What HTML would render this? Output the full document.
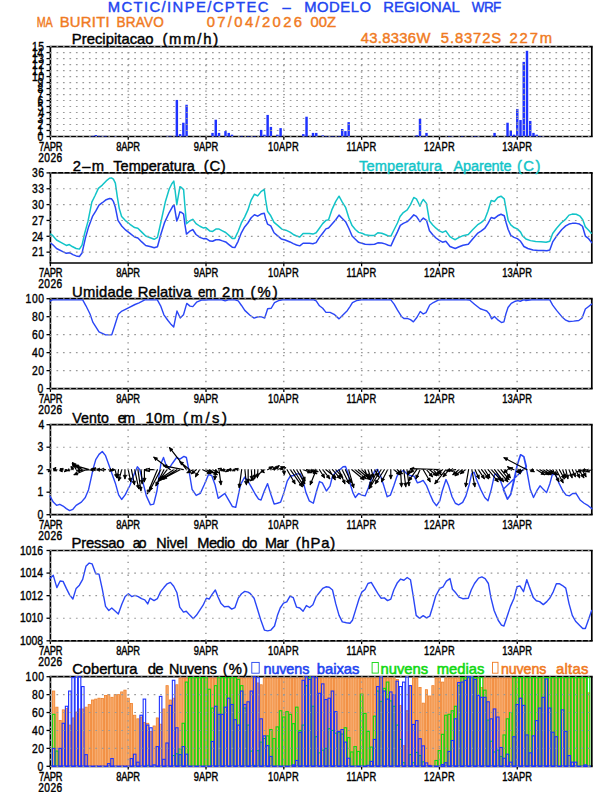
<!DOCTYPE html>
<html><head><meta charset="utf-8"><title>Meteograma WRF</title>
<style>html,body{margin:0;padding:0;background:#fff;width:612px;height:792px;overflow:hidden}svg{display:block}</style>
</head><body>
<svg width="612" height="792" viewBox="0 0 612 792" font-family="'Liberation Sans', sans-serif">
<rect width="612" height="792" fill="#fff"/>
<text id="t0" transform="translate(107.8 12.4) scale(1 1)" font-size="14.8" fill="#2244f0" font-weight="normal" textLength="160.6" lengthAdjust="spacing" stroke="#2244f0" stroke-width="0.42">MCTIC/INPE/CPTEC</text>
<text id="t1" transform="translate(282.6 12.4) scale(1 1)" font-size="14.8" fill="#2244f0" font-weight="normal" textLength="11.4" lengthAdjust="spacing" stroke="#2244f0" stroke-width="0.42">–</text>
<text id="t2" transform="translate(304.3 12.4) scale(1 1)" font-size="14.8" fill="#2244f0" font-weight="normal" textLength="66.6" lengthAdjust="spacing" stroke="#2244f0" stroke-width="0.42">MODELO</text>
<text id="t3" transform="translate(383.3 12.4) scale(1 1)" font-size="14.8" fill="#2244f0" font-weight="normal" textLength="76.5" lengthAdjust="spacing" stroke="#2244f0" stroke-width="0.42">REGIONAL</text>
<text id="t4" transform="translate(471.8 12.4) scale(0.91 1)" font-size="14.8" fill="#2244f0" font-weight="normal" textLength="32.38" lengthAdjust="spacing" stroke="#2244f0" stroke-width="0.42">WRF</text>
<text id="t5" transform="translate(36.7 27) scale(0.73 1)" font-size="14.8" fill="#f07a22" font-weight="normal" textLength="22.05" lengthAdjust="spacing" stroke="#f07a22" stroke-width="0.42">MA</text>
<text id="t6" transform="translate(59.7 27) scale(1 1)" font-size="14.8" fill="#f07a22" font-weight="normal" textLength="49.9" lengthAdjust="spacing" stroke="#f07a22" stroke-width="0.42">BURITI</text>
<text id="t7" transform="translate(116.5 27) scale(0.92 1)" font-size="14.8" fill="#f07a22" font-weight="normal" textLength="51.42" lengthAdjust="spacing" stroke="#f07a22" stroke-width="0.42">BRAVO</text>
<text id="t8" transform="translate(206.7 27) scale(1 1)" font-size="14.8" fill="#f07a22" font-weight="normal" textLength="95.3" lengthAdjust="spacing" stroke="#f07a22" stroke-width="0.42">07/04/2026</text>
<text id="t9" transform="translate(310.4 27) scale(1 1)" font-size="14.8" fill="#f07a22" font-weight="normal" textLength="25.6" lengthAdjust="spacing" stroke="#f07a22" stroke-width="0.42">00Z</text>
<text id="t10" transform="translate(360.7 42.6) scale(1 1)" font-size="14.8" fill="#f07a22" font-weight="normal" textLength="69.7" lengthAdjust="spacing" stroke="#f07a22" stroke-width="0.42">43.8336W</text>
<text id="t11" transform="translate(440.8 42.6) scale(1 1)" font-size="14.8" fill="#f07a22" font-weight="normal" textLength="60.4" lengthAdjust="spacing" stroke="#f07a22" stroke-width="0.42">5.8372S</text>
<text id="t12" transform="translate(509.6 42.6) scale(1 1)" font-size="14.8" fill="#f07a22" font-weight="normal" textLength="42.4" lengthAdjust="spacing" stroke="#f07a22" stroke-width="0.42">227m</text>
<g stroke="#000" stroke-width="1.7"><line x1="49.6" y1="46.6" x2="592.7" y2="46.6"/><line x1="49.6" y1="136.5" x2="592.7" y2="136.5"/><line x1="50.4" y1="46.6" x2="50.4" y2="136.5"/><line x1="591.8" y1="46.6" x2="591.8" y2="136.5"/></g>
<g stroke="#000" stroke-width="1.3"><line x1="46.5" y1="136.5" x2="50.4" y2="136.5"/><line x1="46.5" y1="130.51" x2="50.4" y2="130.51"/><line x1="46.5" y1="124.51" x2="50.4" y2="124.51"/><line x1="46.5" y1="118.52" x2="50.4" y2="118.52"/><line x1="46.5" y1="112.53" x2="50.4" y2="112.53"/><line x1="46.5" y1="106.53" x2="50.4" y2="106.53"/><line x1="46.5" y1="100.54" x2="50.4" y2="100.54"/><line x1="46.5" y1="94.55" x2="50.4" y2="94.55"/><line x1="46.5" y1="88.55" x2="50.4" y2="88.55"/><line x1="46.5" y1="82.56" x2="50.4" y2="82.56"/><line x1="46.5" y1="76.57" x2="50.4" y2="76.57"/><line x1="46.5" y1="70.57" x2="50.4" y2="70.57"/><line x1="46.5" y1="64.58" x2="50.4" y2="64.58"/><line x1="46.5" y1="58.59" x2="50.4" y2="58.59"/><line x1="46.5" y1="52.59" x2="50.4" y2="52.59"/><line x1="46.5" y1="46.6" x2="50.4" y2="46.6"/><line x1="50.4" y1="136.5" x2="50.4" y2="139.8"/><line x1="128.21" y1="136.5" x2="128.21" y2="139.8"/><line x1="206.01" y1="136.5" x2="206.01" y2="139.8"/><line x1="283.82" y1="136.5" x2="283.82" y2="139.8"/><line x1="361.62" y1="136.5" x2="361.62" y2="139.8"/><line x1="439.43" y1="136.5" x2="439.43" y2="139.8"/><line x1="517.24" y1="136.5" x2="517.24" y2="139.8"/></g>
<g fill="#1e32ff"><rect x="91.34" y="135.9" width="2.45" height="0.6"/><rect x="94.59" y="135" width="2.45" height="1.5"/><rect x="97.83" y="135.9" width="2.45" height="0.6"/><rect x="101.07" y="135.9" width="2.45" height="0.6"/><rect x="104.31" y="135.9" width="2.45" height="0.6"/><rect x="114.04" y="136.02" width="2.45" height="0.5"/><rect x="165.91" y="135.9" width="2.45" height="0.6"/><rect x="169.15" y="135.9" width="2.45" height="0.6"/><rect x="175.63" y="99.94" width="2.45" height="36.56"/><rect x="178.88" y="134.1" width="2.45" height="2.4"/><rect x="182.12" y="122.72" width="2.45" height="13.78"/><rect x="185.36" y="104.74" width="2.45" height="31.76"/><rect x="211.3" y="132.9" width="2.45" height="3.6"/><rect x="214.54" y="119.72" width="2.45" height="16.78"/><rect x="217.78" y="132.9" width="2.45" height="3.6"/><rect x="224.26" y="131.11" width="2.45" height="5.39"/><rect x="227.51" y="132.9" width="2.45" height="3.6"/><rect x="230.75" y="134.7" width="2.45" height="1.8"/><rect x="240.47" y="135.9" width="2.45" height="0.6"/><rect x="246.96" y="136.02" width="2.45" height="0.5"/><rect x="250.2" y="136.02" width="2.45" height="0.5"/><rect x="253.44" y="136.02" width="2.45" height="0.5"/><rect x="259.92" y="129.91" width="2.45" height="6.59"/><rect x="263.17" y="134.7" width="2.45" height="1.8"/><rect x="266.41" y="114.92" width="2.45" height="21.58"/><rect x="269.65" y="126.91" width="2.45" height="9.59"/><rect x="276.13" y="134.7" width="2.45" height="1.8"/><rect x="279.38" y="128.11" width="2.45" height="8.39"/><rect x="302.07" y="134.1" width="2.45" height="2.4"/><rect x="305.31" y="116.72" width="2.45" height="19.78"/><rect x="311.8" y="132.9" width="2.45" height="3.6"/><rect x="315.04" y="132.9" width="2.45" height="3.6"/><rect x="321.52" y="135.3" width="2.45" height="1.2"/><rect x="324.76" y="136.2" width="2.45" height="0.5"/><rect x="328" y="136.2" width="2.45" height="0.5"/><rect x="331.25" y="136.2" width="2.45" height="0.5"/><rect x="334.49" y="136.2" width="2.45" height="0.5"/><rect x="337.73" y="136.2" width="2.45" height="0.5"/><rect x="340.97" y="129.01" width="2.45" height="7.49"/><rect x="344.21" y="131.11" width="2.45" height="5.39"/><rect x="347.46" y="122.12" width="2.45" height="14.38"/><rect x="399.33" y="136.02" width="2.45" height="0.5"/><rect x="415.54" y="135.3" width="2.45" height="1.2"/><rect x="418.78" y="118.82" width="2.45" height="17.68"/><rect x="422.02" y="136.2" width="2.45" height="0.5"/><rect x="425.26" y="132.9" width="2.45" height="3.6"/><rect x="447.96" y="136.02" width="2.45" height="0.5"/><rect x="451.2" y="136.02" width="2.45" height="0.5"/><rect x="460.92" y="136.02" width="2.45" height="0.5"/><rect x="470.65" y="136.2" width="2.45" height="0.5"/><rect x="473.89" y="136.2" width="2.45" height="0.5"/><rect x="477.13" y="136.2" width="2.45" height="0.5"/><rect x="493.34" y="132.9" width="2.45" height="3.6"/><rect x="506.31" y="122.72" width="2.45" height="13.78"/><rect x="509.55" y="130.51" width="2.45" height="5.99"/><rect x="512.79" y="134.7" width="2.45" height="1.8"/><rect x="516.04" y="108.93" width="2.45" height="27.57"/><rect x="519.28" y="120.02" width="2.45" height="16.48"/><rect x="522.52" y="61.88" width="2.45" height="74.62"/><rect x="525.76" y="50.8" width="2.45" height="85.7"/><rect x="529" y="120.92" width="2.45" height="15.58"/><rect x="532.25" y="132.9" width="2.45" height="3.6"/><rect x="535.49" y="134.7" width="2.45" height="1.8"/><rect x="538.73" y="136.2" width="2.45" height="0.5"/><rect x="541.97" y="136.2" width="2.45" height="0.5"/></g>
<g stroke="#9a9a9a" stroke-width="1.15" stroke-dasharray="1.7 4.78"><line x1="50" y1="136.5" x2="591.3" y2="136.5"/><line x1="50" y1="130.51" x2="591.3" y2="130.51"/><line x1="50" y1="124.51" x2="591.3" y2="124.51"/><line x1="50" y1="118.52" x2="591.3" y2="118.52"/><line x1="50" y1="112.53" x2="591.3" y2="112.53"/><line x1="50" y1="106.53" x2="591.3" y2="106.53"/><line x1="50" y1="100.54" x2="591.3" y2="100.54"/><line x1="50" y1="94.55" x2="591.3" y2="94.55"/><line x1="50" y1="88.55" x2="591.3" y2="88.55"/><line x1="50" y1="82.56" x2="591.3" y2="82.56"/><line x1="50" y1="76.57" x2="591.3" y2="76.57"/><line x1="50" y1="70.57" x2="591.3" y2="70.57"/><line x1="50" y1="64.58" x2="591.3" y2="64.58"/><line x1="50" y1="58.59" x2="591.3" y2="58.59"/><line x1="50" y1="52.59" x2="591.3" y2="52.59"/><line x1="50" y1="46.6" x2="591.3" y2="46.6"/></g>
<g stroke="#9a9a9a" stroke-width="1.5" stroke-dasharray="1.3 5.05"><line x1="50.3" y1="52.3" x2="50.3" y2="135.5"/><line x1="128.11" y1="52.3" x2="128.11" y2="135.5"/><line x1="205.91" y1="52.3" x2="205.91" y2="135.5"/><line x1="283.72" y1="52.3" x2="283.72" y2="135.5"/><line x1="361.52" y1="52.3" x2="361.52" y2="135.5"/><line x1="439.33" y1="52.3" x2="439.33" y2="135.5"/><line x1="517.14" y1="52.3" x2="517.14" y2="135.5"/></g>
<text id="t13" transform="translate(37.55 140.7) scale(0.85 1)" font-size="12.2" fill="#000" font-weight="normal" textLength="6.53" lengthAdjust="spacing" stroke="#000" stroke-width="0.38">0</text>
<text id="t14" transform="translate(37.55 134.71) scale(0.85 1)" font-size="12.2" fill="#000" font-weight="normal" textLength="6.53" lengthAdjust="spacing" stroke="#000" stroke-width="0.38">1</text>
<text id="t15" transform="translate(37.55 128.71) scale(0.85 1)" font-size="12.2" fill="#000" font-weight="normal" textLength="6.53" lengthAdjust="spacing" stroke="#000" stroke-width="0.38">2</text>
<text id="t16" transform="translate(37.55 122.72) scale(0.85 1)" font-size="12.2" fill="#000" font-weight="normal" textLength="6.53" lengthAdjust="spacing" stroke="#000" stroke-width="0.38">3</text>
<text id="t17" transform="translate(38.55 116.73) scale(0.85 1)" font-size="12.2" fill="#000" font-weight="normal" textLength="4.18" lengthAdjust="spacing" stroke="#000" stroke-width="0.38">4</text>
<text id="t18" transform="translate(37.55 110.73) scale(0.85 1)" font-size="12.2" fill="#000" font-weight="normal" textLength="6.53" lengthAdjust="spacing" stroke="#000" stroke-width="0.38">5</text>
<text id="t19" transform="translate(37.55 104.74) scale(0.85 1)" font-size="12.2" fill="#000" font-weight="normal" textLength="6.53" lengthAdjust="spacing" stroke="#000" stroke-width="0.38">6</text>
<text id="t20" transform="translate(37.55 98.75) scale(0.85 1)" font-size="12.2" fill="#000" font-weight="normal" textLength="6.53" lengthAdjust="spacing" stroke="#000" stroke-width="0.38">7</text>
<text id="t21" transform="translate(37.55 92.75) scale(0.85 1)" font-size="12.2" fill="#000" font-weight="normal" textLength="6.53" lengthAdjust="spacing" stroke="#000" stroke-width="0.38">8</text>
<text id="t22" transform="translate(37.55 86.76) scale(0.85 1)" font-size="12.2" fill="#000" font-weight="normal" textLength="6.53" lengthAdjust="spacing" stroke="#000" stroke-width="0.38">9</text>
<text id="t23" transform="translate(32 80.77) scale(0.85 1)" font-size="12.2" fill="#000" font-weight="normal" textLength="14.24" lengthAdjust="spacing" stroke="#000" stroke-width="0.38">10</text>
<text id="t24" transform="translate(32 74.77) scale(0.85 1)" font-size="12.2" fill="#000" font-weight="normal" textLength="14.24" lengthAdjust="spacing" stroke="#000" stroke-width="0.38">11</text>
<text id="t25" transform="translate(32 68.78) scale(0.85 1)" font-size="12.2" fill="#000" font-weight="normal" textLength="14.24" lengthAdjust="spacing" stroke="#000" stroke-width="0.38">12</text>
<text id="t26" transform="translate(32 62.79) scale(0.85 1)" font-size="12.2" fill="#000" font-weight="normal" textLength="14.24" lengthAdjust="spacing" stroke="#000" stroke-width="0.38">13</text>
<text id="t27" transform="translate(32 56.79) scale(0.85 1)" font-size="12.2" fill="#000" font-weight="normal" textLength="13.06" lengthAdjust="spacing" stroke="#000" stroke-width="0.38">14</text>
<text id="t28" transform="translate(32 50.8) scale(0.85 1)" font-size="12.2" fill="#000" font-weight="normal" textLength="14.24" lengthAdjust="spacing" stroke="#000" stroke-width="0.38">15</text>
<text id="t29" transform="translate(38.9 150.7) scale(0.78 1)" font-size="12" fill="#000" font-weight="normal" textLength="30.26" lengthAdjust="spacing" stroke="#000" stroke-width="0.42">7APR</text>
<text id="t30" transform="translate(116.32 150.7) scale(0.78 1)" font-size="12" fill="#000" font-weight="normal" textLength="30.26" lengthAdjust="spacing" stroke="#000" stroke-width="0.42">8APR</text>
<text id="t31" transform="translate(193.74 150.7) scale(0.78 1)" font-size="12" fill="#000" font-weight="normal" textLength="31.54" lengthAdjust="spacing" stroke="#000" stroke-width="0.42">9APR</text>
<text id="t32" transform="translate(268.08 150.7) scale(0.78 1)" font-size="12" fill="#000" font-weight="normal" textLength="39.42" lengthAdjust="spacing" stroke="#000" stroke-width="0.42">10APR</text>
<text id="t33" transform="translate(346.5 150.7) scale(0.78 1)" font-size="12" fill="#000" font-weight="normal" textLength="38.14" lengthAdjust="spacing" stroke="#000" stroke-width="0.42">11APR</text>
<text id="t34" transform="translate(423.91 150.7) scale(0.78 1)" font-size="12" fill="#000" font-weight="normal" textLength="39.42" lengthAdjust="spacing" stroke="#000" stroke-width="0.42">12APR</text>
<text id="t35" transform="translate(502.33 150.7) scale(0.78 1)" font-size="12" fill="#000" font-weight="normal" textLength="38.14" lengthAdjust="spacing" stroke="#000" stroke-width="0.42">13APR</text>
<text id="t36" transform="translate(38.3 161.8) scale(0.85 1)" font-size="12" fill="#000" font-weight="normal" textLength="28" lengthAdjust="spacing" stroke="#000" stroke-width="0.42">2026</text>
<text id="t37" transform="translate(71.8 43.8) scale(1 1)" font-size="14.8" fill="#000" font-weight="normal" textLength="81.8" lengthAdjust="spacing" stroke="#000" stroke-width="0.42">Precipitacao</text>
<text id="t38" transform="translate(162.4 43.8) scale(1 1)" font-size="14.8" fill="#000" font-weight="normal" textLength="55.7" lengthAdjust="spacing" stroke="#000" stroke-width="0.42">(mm/h)</text>
<g stroke="#000" stroke-width="1.7"><line x1="49.6" y1="172.9" x2="592.7" y2="172.9"/><line x1="49.6" y1="263" x2="592.7" y2="263"/><line x1="50.4" y1="172.9" x2="50.4" y2="263"/><line x1="591.8" y1="172.9" x2="591.8" y2="263"/></g>
<g stroke="#000" stroke-width="1.3"><line x1="46.5" y1="252.15" x2="50.4" y2="252.15"/><line x1="46.5" y1="236.3" x2="50.4" y2="236.3"/><line x1="46.5" y1="220.45" x2="50.4" y2="220.45"/><line x1="46.5" y1="204.6" x2="50.4" y2="204.6"/><line x1="46.5" y1="188.75" x2="50.4" y2="188.75"/><line x1="46.5" y1="172.9" x2="50.4" y2="172.9"/><line x1="50.4" y1="263" x2="50.4" y2="266.3"/><line x1="128.21" y1="263" x2="128.21" y2="266.3"/><line x1="206.01" y1="263" x2="206.01" y2="266.3"/><line x1="283.82" y1="263" x2="283.82" y2="266.3"/><line x1="361.62" y1="263" x2="361.62" y2="266.3"/><line x1="439.43" y1="263" x2="439.43" y2="266.3"/><line x1="517.24" y1="263" x2="517.24" y2="266.3"/></g>
<polyline points="50.65,234.09 52.61,235.4 56.54,239.97 61.76,242.85 66.34,245.46 69.35,244.55 72.22,246.51 76.14,248.47 79.41,249.12 82.03,245.2 84.64,233.44 87.91,221.67 91.83,202.07 95.1,195.53 98.37,188.34 102.29,185.07 106.21,180.89 109.48,178.27 111.44,177.88 113.4,179.19 115.36,183.11 117.32,196.84 119.28,208.6 121.63,216.44 125.16,220.37 130,224.29 134.58,227.56 137.84,228.21 141.76,232.13 145.69,236.05 150.92,238.01 154.18,239.32 157.45,237.36 160.72,222.98 165.29,202.07 169.22,188.99 171.83,183.76 173.79,181.15 175.1,190.3 176.8,204.68 178.37,195.53 179.93,186.64 181.63,187.69 183.59,189.65 184.9,205.99 186.47,223.63 189.48,221.02 192.75,219.32 196.01,223.63 199.93,226.25 203.2,227.95 205.82,227.56 210,231.08 212.61,231.48 215.88,229.12 219.15,229.12 222.42,230.82 225.69,232.52 228.95,235.4 232.22,238.41 234.84,238.41 238.1,231.48 241.37,222.98 244.64,217.1 247.91,209.91 251.18,200.1 254.44,194.22 257.71,195.92 260.98,191.61 264.25,189.39 265.56,199.45 267.52,211.22 270.78,215.79 274.05,222.33 277.97,225.59 281.9,229.12 285.82,230.17 290,232.13 293.27,234.48 296.54,236.05 299.8,236.97 303.07,233.44 306.34,233.44 309.61,233.44 312.88,234.09 316.14,232.78 319.41,228.21 322.68,223.63 325.95,220.37 328.56,219.71 331.83,209.91 335.75,201.41 339.02,196.18 342.29,202.07 345.56,207.29 348.82,217.75 352.09,225.59 355.36,229.52 358.63,232.39 361.9,233.18 365.16,234.75 370,235.4 374.58,235.4 377.84,232.78 381.76,233.18 385.03,234.48 388.3,236.05 390.92,236.05 394.18,229.52 397.45,222.98 400.07,216.44 403.33,212.52 407.25,209.91 410.52,204.68 413.79,197.49 416.41,198.8 418.37,202.72 419.93,206.25 421.63,202.07 423.33,199.45 426.47,203.37 429.48,221.02 432.75,224.94 436.01,228.21 439.28,230.82 442.55,232.39 445.82,230.82 450,236.71 452.61,238.41 455.23,239.71 459.15,237.36 463.07,235.66 468.3,234.48 472.88,229.52 477.45,224.94 481.37,222.33 484.64,219.71 487.91,211.22 491.18,200.5 494.44,201.41 497.71,197.49 500.98,196.18 504.25,198.8 506.21,209.91 508.17,220.37 510.78,224.94 514.05,227.56 517.32,228.86 520.59,232.13 522.61,236.05 525.88,238.93 530.46,240.63 535.69,241.54 540.92,241.67 546.14,242.2 549.8,241.28 552.68,233.44 556.6,228.21 561.18,222.98 565.75,219.06 569.02,215.14 572.29,214.09 576.21,214.22 580.13,216.18 582.75,219.71 585.36,226.9 588.63,230.17 591.24,233.18" fill="none" stroke="#12c4c8" stroke-width="1.5" stroke-linejoin="round" stroke-linecap="round"/>
<polyline points="50.65,243.24 52.61,244.55 56.54,248.47 61.76,251.08 66.34,253.31 69.61,252.65 72.88,254.61 76.14,255.92 79.41,256.44 82.03,253.05 85.29,238.67 88.56,226.9 92.48,216.44 95.75,211.22 99.02,205.07 102.29,202.72 106.21,199.71 109.48,198.54 111.44,198.8 113.4,201.41 115.36,207.29 117.97,220.37 121.9,226.25 125.82,230.17 130,233.44 134.58,236.97 137.84,238.01 141.76,241.93 145.69,245.46 150.92,246.77 154.18,247.82 157.45,246.77 160.72,234.75 164.64,222.33 169.22,212.52 173.14,205.73 174.18,205.33 176.8,221.02 178.37,217.1 179.93,211.87 181.63,212.52 183.59,214.09 184.9,224.29 186.47,234.09 189.48,231.48 192.75,229.52 196.01,234.48 199.93,237.36 203.2,238.67 205.82,238.41 210,241.02 212.61,241.28 215.88,239.71 219.15,239.71 222.42,240.89 225.69,241.93 228.95,244.55 232.22,247.16 234.84,247.56 238.1,241.28 241.37,232.78 244.64,226.9 247.91,222.98 251.18,217.75 254.44,214.75 257.71,216.18 260.98,214.09 264.25,213.18 265.56,218.41 267.52,224.03 270.78,225.86 274.05,232.78 277.97,236.05 281.24,238.93 285.16,239.97 290,241.93 293.27,243.63 296.54,244.94 299.8,245.86 303.07,243.24 306.34,243.24 309.61,243.24 312.88,243.76 316.14,242.59 319.41,237.36 322.68,233.18 325.95,228.86 328.56,227.95 331.83,224.29 335.75,219.71 339.02,215.14 342.29,218.41 345.56,221.67 348.82,228.21 352.09,236.05 355.36,239.32 358.63,242.33 361.9,243.24 365.16,244.29 370,244.55 374.58,244.29 377.84,242.85 381.76,242.98 385.03,243.9 388.3,245.2 390.92,245.86 394.18,238.67 397.45,231.87 400.33,225.33 403.33,223.37 407.25,221.67 410.52,218.41 413.79,214.88 416.41,216.44 419.93,221.67 421.63,219.71 423.33,218.14 426.47,220.37 429.48,230.82 432.75,234.75 436.01,238.01 439.28,240.37 442.55,242.2 445.82,241.28 450,246.51 452.61,247.56 455.23,248.47 459.15,246.77 463.07,245.2 468.3,244.29 472.88,238.67 477.45,233.44 481.37,230.82 484.64,228.47 487.91,223.63 491.18,217.49 494.44,218.41 497.71,215.79 500.98,214.22 504.25,215.79 506.21,222.98 508.17,229.52 510.78,235.4 514.05,237.36 517.32,238.67 520.59,241.28 523.92,246.51 527.84,248.47 533.07,250.04 538.3,250.43 543.53,250.43 546.8,250.82 549.8,250.04 552.68,241.93 556.6,236.05 561.83,229.52 565.75,225.86 569.02,224.03 572.29,223.37 576.21,223.37 579.48,224.03 582.48,226.25 585.36,236.05 588.63,238.67 591.63,242.59" fill="none" stroke="#2a46f6" stroke-width="1.5" stroke-linejoin="round" stroke-linecap="round"/>
<g stroke="#9a9a9a" stroke-width="1.15" stroke-dasharray="1.7 4.78"><line x1="50" y1="252.15" x2="591.3" y2="252.15"/><line x1="50" y1="236.3" x2="591.3" y2="236.3"/><line x1="50" y1="220.45" x2="591.3" y2="220.45"/><line x1="50" y1="204.6" x2="591.3" y2="204.6"/><line x1="50" y1="188.75" x2="591.3" y2="188.75"/><line x1="50" y1="172.9" x2="591.3" y2="172.9"/></g>
<g stroke="#9a9a9a" stroke-width="1.5" stroke-dasharray="1.3 5.15"><line x1="50.3" y1="177.55" x2="50.3" y2="262"/><line x1="128.11" y1="177.55" x2="128.11" y2="262"/><line x1="205.91" y1="177.55" x2="205.91" y2="262"/><line x1="283.72" y1="177.55" x2="283.72" y2="262"/><line x1="361.52" y1="177.55" x2="361.52" y2="262"/><line x1="439.33" y1="177.55" x2="439.33" y2="262"/><line x1="517.14" y1="177.55" x2="517.14" y2="262"/></g>
<text id="t39" transform="translate(32 256.35) scale(0.85 1)" font-size="12.2" fill="#000" font-weight="normal" textLength="14.24" lengthAdjust="spacing" stroke="#000" stroke-width="0.38">21</text>
<text id="t40" transform="translate(32 240.5) scale(0.85 1)" font-size="12.2" fill="#000" font-weight="normal" textLength="13.06" lengthAdjust="spacing" stroke="#000" stroke-width="0.38">24</text>
<text id="t41" transform="translate(32 224.65) scale(0.85 1)" font-size="12.2" fill="#000" font-weight="normal" textLength="14.24" lengthAdjust="spacing" stroke="#000" stroke-width="0.38">27</text>
<text id="t42" transform="translate(32 208.8) scale(0.85 1)" font-size="12.2" fill="#000" font-weight="normal" textLength="14.24" lengthAdjust="spacing" stroke="#000" stroke-width="0.38">30</text>
<text id="t43" transform="translate(32 192.95) scale(0.85 1)" font-size="12.2" fill="#000" font-weight="normal" textLength="14.24" lengthAdjust="spacing" stroke="#000" stroke-width="0.38">33</text>
<text id="t44" transform="translate(32 177.1) scale(0.85 1)" font-size="12.2" fill="#000" font-weight="normal" textLength="14.24" lengthAdjust="spacing" stroke="#000" stroke-width="0.38">36</text>
<text id="t45" transform="translate(38.9 277.2) scale(0.78 1)" font-size="12" fill="#000" font-weight="normal" textLength="30.26" lengthAdjust="spacing" stroke="#000" stroke-width="0.42">7APR</text>
<text id="t46" transform="translate(116.32 277.2) scale(0.78 1)" font-size="12" fill="#000" font-weight="normal" textLength="30.26" lengthAdjust="spacing" stroke="#000" stroke-width="0.42">8APR</text>
<text id="t47" transform="translate(193.74 277.2) scale(0.78 1)" font-size="12" fill="#000" font-weight="normal" textLength="31.54" lengthAdjust="spacing" stroke="#000" stroke-width="0.42">9APR</text>
<text id="t48" transform="translate(268.08 277.2) scale(0.78 1)" font-size="12" fill="#000" font-weight="normal" textLength="39.42" lengthAdjust="spacing" stroke="#000" stroke-width="0.42">10APR</text>
<text id="t49" transform="translate(346.5 277.2) scale(0.78 1)" font-size="12" fill="#000" font-weight="normal" textLength="38.14" lengthAdjust="spacing" stroke="#000" stroke-width="0.42">11APR</text>
<text id="t50" transform="translate(423.91 277.2) scale(0.78 1)" font-size="12" fill="#000" font-weight="normal" textLength="39.42" lengthAdjust="spacing" stroke="#000" stroke-width="0.42">12APR</text>
<text id="t51" transform="translate(502.33 277.2) scale(0.78 1)" font-size="12" fill="#000" font-weight="normal" textLength="38.14" lengthAdjust="spacing" stroke="#000" stroke-width="0.42">13APR</text>
<text id="t52" transform="translate(38.3 288.3) scale(0.85 1)" font-size="12" fill="#000" font-weight="normal" textLength="28" lengthAdjust="spacing" stroke="#000" stroke-width="0.42">2026</text>
<text id="t53" transform="translate(72.8 170.7) scale(1 1)" font-size="14.8" fill="#000" font-weight="normal" textLength="31.2" lengthAdjust="spacing" stroke="#000" stroke-width="0.42">2–m</text>
<text id="t54" transform="translate(113.3 170.7) scale(0.98 1)" font-size="14.8" fill="#000" font-weight="normal" textLength="83.16" lengthAdjust="spacing" stroke="#000" stroke-width="0.42">Temperatura</text>
<text id="t55" transform="translate(203.8 170.7) scale(1 1)" font-size="14.8" fill="#000" font-weight="normal" textLength="22" lengthAdjust="spacing" stroke="#000" stroke-width="0.42">(C)</text>
<text id="t56" transform="translate(359.1 170.6) scale(0.99 1)" font-size="14.8" fill="#12c4c8" font-weight="normal" textLength="83.78" lengthAdjust="spacing" stroke="#12c4c8" stroke-width="0.42">Temperatura</text>
<text id="t57" transform="translate(453.4 170.6) scale(0.98 1)" font-size="14.8" fill="#12c4c8" font-weight="normal" textLength="59.38" lengthAdjust="spacing" stroke="#12c4c8" stroke-width="0.42">Aparente</text>
<text id="t58" transform="translate(517 170.6) scale(1 1)" font-size="14.8" fill="#12c4c8" font-weight="normal" textLength="23.4" lengthAdjust="spacing" stroke="#12c4c8" stroke-width="0.42">(C)</text>
<g stroke="#000" stroke-width="1.7"><line x1="49.6" y1="298.7" x2="592.7" y2="298.7"/><line x1="49.6" y1="388.6" x2="592.7" y2="388.6"/><line x1="50.4" y1="298.7" x2="50.4" y2="388.6"/><line x1="591.8" y1="298.7" x2="591.8" y2="388.6"/></g>
<g stroke="#000" stroke-width="1.3"><line x1="46.5" y1="388.6" x2="50.4" y2="388.6"/><line x1="46.5" y1="370.62" x2="50.4" y2="370.62"/><line x1="46.5" y1="352.64" x2="50.4" y2="352.64"/><line x1="46.5" y1="334.66" x2="50.4" y2="334.66"/><line x1="46.5" y1="316.68" x2="50.4" y2="316.68"/><line x1="46.5" y1="298.7" x2="50.4" y2="298.7"/><line x1="50.4" y1="388.6" x2="50.4" y2="391.9"/><line x1="128.21" y1="388.6" x2="128.21" y2="391.9"/><line x1="206.01" y1="388.6" x2="206.01" y2="391.9"/><line x1="283.82" y1="388.6" x2="283.82" y2="391.9"/><line x1="361.62" y1="388.6" x2="361.62" y2="391.9"/><line x1="439.43" y1="388.6" x2="439.43" y2="391.9"/><line x1="517.24" y1="388.6" x2="517.24" y2="391.9"/></g>
<polyline points="50,301.23 52.45,299.9 56.54,299.9 82.68,299.9 85.95,305.8 90.03,313.97 92.81,322.14 99.02,331.95 105.56,334.89 111.76,334.73 114.54,326.23 118.3,314.3 121.9,311.03 128.43,307.76 134.97,304.5 139.05,302.86 144.77,299.9 150,299.9 157.35,299.9 160.62,305.8 163.89,314.79 167.97,320.51 171.24,324.59 173.69,327.05 175.33,318.88 176.96,311.03 180.23,318.06 183.5,314.79 186.76,303.35 190.03,306.13 192.81,306.62 196.57,302.21 201.47,300.08 205.56,300.08 208.82,299.9 221.9,299.9 225.16,300.9 228.43,299.9 234.97,299.9 238.24,300.9 241.5,305.48 244.77,310.38 250,315.28 254.08,318.06 258.17,316.75 261.44,316.92 264.71,318.06 267.65,308.75 271.24,308.25 274.51,302.54 278.59,300.58 282.68,299.9 292.48,299.9 313.73,299.9 316.18,300.9 319.44,305.8 322.71,308.25 325.98,312.34 330.07,312.34 334.15,314.3 339.05,318.88 343.14,314.79 347.22,310.71 350,306.62 352.45,302.54 356.54,300.58 361.44,299.9 366.34,299.9 371.24,299.9 376.14,299.9 382.68,299.9 390.85,299.9 394.12,304.17 397.39,309.89 401.47,316.42 403.92,318.55 407.19,318.39 410.46,319.69 413.4,321.82 416.99,317.24 420.26,311.52 423.2,313.97 425.98,312.67 429.74,304.99 433.33,302.54 438.24,300.08 441.5,299.9 450,299.9 466.34,299.9 469.61,300.08 474.51,304.17 480.23,308.75 483.5,309.89 486.76,311.03 489.22,313.65 491.67,318.88 494.44,316.42 498.2,320.18 501.47,322.47 503.92,321.82 505.88,313.97 508.01,307.44 511.27,303.35 515.36,301.23 517.81,300.58 520.26,301.23 523.53,299.9 526.8,300.08 531.7,299.9 525.88,300.58 529.15,299.9 533.07,299.9 541.57,299.9 549.8,299.9 552.68,305.15 556.6,310.38 561.83,316.65 565.75,320.18 569.02,321.49 573.59,321.1 578.82,320.44 582.09,317.96 585.36,309.07 588.63,306.46 591.63,304.1" fill="none" stroke="#2a46f6" stroke-width="1.4" stroke-linejoin="round" stroke-linecap="round"/>
<g stroke="#9a9a9a" stroke-width="1.15" stroke-dasharray="1.7 4.78"><line x1="50" y1="388.6" x2="591.3" y2="388.6"/><line x1="50" y1="370.62" x2="591.3" y2="370.62"/><line x1="50" y1="352.64" x2="591.3" y2="352.64"/><line x1="50" y1="334.66" x2="591.3" y2="334.66"/><line x1="50" y1="316.68" x2="591.3" y2="316.68"/><line x1="50" y1="298.7" x2="591.3" y2="298.7"/></g>
<g stroke="#9a9a9a" stroke-width="1.5" stroke-dasharray="1.3 5.15"><line x1="50.3" y1="303.45" x2="50.3" y2="387.6"/><line x1="128.11" y1="303.45" x2="128.11" y2="387.6"/><line x1="205.91" y1="303.45" x2="205.91" y2="387.6"/><line x1="283.72" y1="303.45" x2="283.72" y2="387.6"/><line x1="361.52" y1="303.45" x2="361.52" y2="387.6"/><line x1="439.33" y1="303.45" x2="439.33" y2="387.6"/><line x1="517.14" y1="303.45" x2="517.14" y2="387.6"/></g>
<text id="t59" transform="translate(37.55 392.8) scale(0.85 1)" font-size="12.2" fill="#000" font-weight="normal" textLength="6.53" lengthAdjust="spacing" stroke="#000" stroke-width="0.38">0</text>
<text id="t60" transform="translate(32 374.82) scale(0.85 1)" font-size="12.2" fill="#000" font-weight="normal" textLength="14.24" lengthAdjust="spacing" stroke="#000" stroke-width="0.38">20</text>
<text id="t61" transform="translate(32 356.84) scale(0.85 1)" font-size="12.2" fill="#000" font-weight="normal" textLength="14.24" lengthAdjust="spacing" stroke="#000" stroke-width="0.38">40</text>
<text id="t62" transform="translate(32 338.86) scale(0.85 1)" font-size="12.2" fill="#000" font-weight="normal" textLength="14.24" lengthAdjust="spacing" stroke="#000" stroke-width="0.38">60</text>
<text id="t63" transform="translate(32 320.88) scale(0.85 1)" font-size="12.2" fill="#000" font-weight="normal" textLength="14.24" lengthAdjust="spacing" stroke="#000" stroke-width="0.38">80</text>
<text id="t64" transform="translate(25.45 302.9) scale(0.85 1)" font-size="12.2" fill="#000" font-weight="normal" textLength="21.94" lengthAdjust="spacing" stroke="#000" stroke-width="0.38">100</text>
<text id="t65" transform="translate(38.9 402.8) scale(0.78 1)" font-size="12" fill="#000" font-weight="normal" textLength="30.26" lengthAdjust="spacing" stroke="#000" stroke-width="0.42">7APR</text>
<text id="t66" transform="translate(116.32 402.8) scale(0.78 1)" font-size="12" fill="#000" font-weight="normal" textLength="30.26" lengthAdjust="spacing" stroke="#000" stroke-width="0.42">8APR</text>
<text id="t67" transform="translate(193.74 402.8) scale(0.78 1)" font-size="12" fill="#000" font-weight="normal" textLength="31.54" lengthAdjust="spacing" stroke="#000" stroke-width="0.42">9APR</text>
<text id="t68" transform="translate(268.08 402.8) scale(0.78 1)" font-size="12" fill="#000" font-weight="normal" textLength="39.42" lengthAdjust="spacing" stroke="#000" stroke-width="0.42">10APR</text>
<text id="t69" transform="translate(346.5 402.8) scale(0.78 1)" font-size="12" fill="#000" font-weight="normal" textLength="38.14" lengthAdjust="spacing" stroke="#000" stroke-width="0.42">11APR</text>
<text id="t70" transform="translate(423.91 402.8) scale(0.78 1)" font-size="12" fill="#000" font-weight="normal" textLength="39.42" lengthAdjust="spacing" stroke="#000" stroke-width="0.42">12APR</text>
<text id="t71" transform="translate(502.33 402.8) scale(0.78 1)" font-size="12" fill="#000" font-weight="normal" textLength="38.14" lengthAdjust="spacing" stroke="#000" stroke-width="0.42">13APR</text>
<text id="t72" transform="translate(38.3 413.9) scale(0.85 1)" font-size="12" fill="#000" font-weight="normal" textLength="28" lengthAdjust="spacing" stroke="#000" stroke-width="0.42">2026</text>
<text id="t73" transform="translate(72.1 296.6) scale(1 1)" font-size="14.8" fill="#000" font-weight="normal" textLength="60.4" lengthAdjust="spacing" stroke="#000" stroke-width="0.42">Umidade</text>
<text id="t74" transform="translate(137.8 296.6) scale(1 1)" font-size="14.8" fill="#000" font-weight="normal" textLength="53.6" lengthAdjust="spacing" stroke="#000" stroke-width="0.42">Relativa</text>
<text id="t75" transform="translate(198.1 296.6) scale(0.9 1)" font-size="14.8" fill="#000" font-weight="normal" textLength="20.29" lengthAdjust="spacing" stroke="#000" stroke-width="0.42">em</text>
<text id="t76" transform="translate(222.1 296.6) scale(1 1)" font-size="14.8" fill="#000" font-weight="normal" textLength="21.8" lengthAdjust="spacing" stroke="#000" stroke-width="0.42">2m</text>
<text id="t77" transform="translate(250.6 296.6) scale(1 1)" font-size="14.8" fill="#000" font-weight="normal" textLength="27.2" lengthAdjust="spacing" stroke="#000" stroke-width="0.42">(%)</text>
<g stroke="#000" stroke-width="1.7"><line x1="49.6" y1="424.7" x2="592.7" y2="424.7"/><line x1="49.6" y1="514.7" x2="592.7" y2="514.7"/><line x1="50.4" y1="424.7" x2="50.4" y2="514.7"/><line x1="591.8" y1="424.7" x2="591.8" y2="514.7"/></g>
<g stroke="#000" stroke-width="1.3"><line x1="46.5" y1="514.7" x2="50.4" y2="514.7"/><line x1="46.5" y1="492.2" x2="50.4" y2="492.2"/><line x1="46.5" y1="469.7" x2="50.4" y2="469.7"/><line x1="46.5" y1="447.2" x2="50.4" y2="447.2"/><line x1="46.5" y1="424.7" x2="50.4" y2="424.7"/><line x1="50.4" y1="514.7" x2="50.4" y2="518"/><line x1="128.21" y1="514.7" x2="128.21" y2="518"/><line x1="206.01" y1="514.7" x2="206.01" y2="518"/><line x1="283.82" y1="514.7" x2="283.82" y2="518"/><line x1="361.62" y1="514.7" x2="361.62" y2="518"/><line x1="439.43" y1="514.7" x2="439.43" y2="518"/><line x1="517.24" y1="514.7" x2="517.24" y2="518"/></g>
<polyline points="50,496.21 53.27,502.09 56.54,505.36 59.8,504.31 63.07,506.01 66.34,508.63 69.61,510.59 72.88,509.28 76.14,505.36 81.37,502.09 85.29,497.52 88.56,489.67 91.18,477.91 93.14,468.76 95.75,459.61 99.02,454.38 102.29,451.5 105.56,455.69 108.82,464.84 112.09,473.99 115.36,483.14 118.63,494.9 121.63,499.48 125.16,494.9 130,485.27 133.27,476.29 137.35,466.81 139.8,469.75 143.07,482.82 146.34,495.9 150.42,504.88 153.69,504.07 156.96,490.99 159.41,473.02 161.05,463.22 163.5,457.5 165.95,464.85 169.22,468.12 172.48,463.22 176.57,457.5 179.84,459.13 183.92,456.35 186.37,457.5 188.82,469.75 192.09,489.36 196.18,495.41 200.26,493.44 204.35,484.46 208.43,474.65 211.7,475.47 214.97,484.46 218.24,498.35 221.5,495.9 224.77,493.44 230,502.43 232.45,506.52 235.72,507.33 238.17,495.9 240.62,484.46 244.71,477.1 247.97,481.19 251.24,486.91 255.33,494.26 258.59,499.16 261.05,499.98 264.31,490.99 267.58,483.64 270.85,494.26 274.12,504.07 277.39,503.25 280.65,502.1 283.92,492.63 287.19,481.19 290.46,475.96 293.73,475.47 296.99,473.84 300.26,473.84 302.71,479.56 305.98,492.63 309.25,500.8 313.33,503.25 316.6,490.99 319.54,481.52 322.32,482.82 326.41,490.99 330,486.09 332.45,476.29 336.54,471.39 339.8,469.75 343.07,466.81 345.52,466.48 347.97,473.02 350.42,484.46 352.88,492.63 355.33,497.53 358.59,493.44 361.86,495.08 365.13,495.9 368.4,487.73 371.67,477.92 374.93,470.57 377.39,469.42 380.65,476.29 383.92,486.09 387.19,496.71 390.46,495.08 393.73,486.09 396.99,476.29 399.44,472.2 403.53,470.57 406.8,473.84 410.07,475.47 414.15,476.29 417.42,482.82 419.87,482.01 423.14,480.37 426.41,485.27 430,494.26 433.27,501.61 436.54,505.7 439.8,500.8 442.25,490.99 446.01,479.56 448.79,486.09 452.06,496.71 455.33,503.25 458.59,504.88 462.68,502.43 465.95,495.9 469.22,484.46 471.67,473.84 474.12,472.2 476.57,479.56 480.65,489.36 484.74,497.53 488.01,500.8 491.27,489.36 494.54,474.65 496.99,473.84 500.26,480.37 504.35,490.99 507.61,499.16 510.88,494.26 514.15,481.19 517.42,464.85 520.69,454.72 523.95,456.68 526.41,466.48 503.27,489.36 507.35,499.16 510.62,494.26 513.89,479.56 517.16,464.85 520.42,454.72 523.69,456.68 526.96,471.39 530.23,489.36 533.5,497.53 536.76,490.99 540.03,485.76 543.3,489.36 546.57,492.63 549.84,483.64 552.29,474.65 555.56,474.65 558.82,482.82 562.91,490.99 566.18,495.08 569.44,495.9 572.71,493.44 575.98,493.44 580.07,499.98 584.15,503.25 588.24,505.7 591.83,508.64" fill="none" stroke="#2a46f6" stroke-width="1.4" stroke-linejoin="round" stroke-linecap="round"/>
<path d="M50.4 469.7L48.4 471.7M53.64 469.7L55.64 467.7M56.88 469.7L53.88 470.7M60.13 469.7L62.13 471.7M63.37 469.7L60.37 468.7M66.61 469.7L64.61 471.7M69.85 469.7L66.85 470.7M73.09 469.7L71.09 466.7M76.34 469.7L72.34 463.7M79.58 469.7L72.58 462.7M82.82 469.7L73.82 464.7M86.06 469.7L74.06 474.7M89.3 469.7L75.3 465.7M92.54 469.7L76.54 470.7M95.79 469.7L89.79 469.7M99.03 469.7L92.03 468.7M102.27 469.7L96.27 469.7M105.51 469.7L100.51 469.7M108.75 469.7L112.75 470.7M112 469.7L115 469.7M115.24 469.7L116.74 477.7M118.48 469.7L117.48 477.7M121.72 469.7L118.72 480.7M124.96 469.7L124.96 478.7M128.21 469.7L130.71 481.7M131.45 469.7L134.45 484.7M134.69 469.7L138.69 488.7M137.93 469.7L140.93 490.7M141.17 469.7L142.17 483.7M144.42 469.7L144.42 481.7M147.66 469.7L144.66 469.7M150.9 469.7L145.9 470.7M154.14 469.7L146.14 469.7M157.38 469.7L147.38 493.7M160.63 469.7L149.63 490.7M163.87 469.7L155.87 485.7M167.11 469.7L158.11 481.7M170.35 469.7L153.85 457.2M173.59 469.7L158.59 479.7M176.83 469.7L160.83 479.7M180.08 469.7L163.08 478.7M183.32 469.7L163.32 465.7M186.56 469.7L169.56 447.7M189.8 469.7L179.8 461.7M193.04 469.7L187.04 472.7M196.29 469.7L191.29 473.7M199.53 469.7L195.53 476.7M202.77 469.7L210.77 473.7M206.01 469.7L213.01 472.7M209.25 469.7L217.25 474.7M212.5 469.7L218.5 472.7M215.74 469.7L214.74 479.7M218.98 469.7L220.98 484.7M222.22 469.7L218.22 468.7M225.46 469.7L221.46 470.7M228.71 469.7L225.71 471.7M231.95 469.7L227.95 469.7M235.19 469.7L232.19 470.7M238.43 469.7L235.43 468.7M241.67 469.7L239.17 487.7M244.91 469.7L246.41 484.7M248.16 469.7L248.16 482.7M251.4 469.7L251.9 479.7M254.64 469.7L254.64 478.7M257.88 469.7L257.38 477.7M261.12 469.7L264.12 472.7M264.37 469.7L250.37 480.7M267.61 469.7L272.61 466.7M270.85 469.7L276.85 467.7M274.09 469.7L279.09 465.7M277.33 469.7L284.33 466.7M280.58 469.7L285.58 467.7M283.82 469.7L284.32 474.7M287.06 469.7L295.06 483.7M290.3 469.7L302.3 486.7M293.54 469.7L303.54 485.7M296.79 469.7L304.79 483.7M300.03 469.7L305.03 480.7M303.27 469.7L311.27 472.7M306.51 469.7L314.51 471.7M309.75 469.7L316.75 473.7M313 469.7L318 471.7M316.24 469.7L310.24 484.7M319.48 469.7L324.48 477.7M322.72 469.7L329.72 478.7M325.96 469.7L335.96 477.7M329.2 469.7L335.2 479.7M332.45 469.7L340.45 478.7M335.69 469.7L342.69 477.7M338.93 469.7L344.93 483.7M342.17 469.7L349.17 483.7M345.41 469.7L351.41 482.7M348.66 469.7L353.66 487.7M351.9 469.7L363.9 479.7M355.14 469.7L366.14 478.7M358.38 469.7L370.38 479.7M361.62 469.7L369.62 477.7M364.87 469.7L367.87 477.7M368.11 469.7L371.11 478.7M371.35 469.7L373.35 477.7M374.59 469.7L378.59 476.7M377.83 469.7L369.83 485.7M381.08 469.7L369.08 488.7M384.32 469.7L375.32 483.7M387.56 469.7L381.56 481.7M390.8 469.7L390.8 478.7M394.04 469.7L400.04 474.7M397.29 469.7L402.29 473.7M400.53 469.7L401.53 486.7M403.77 469.7L405.77 486.7M407.01 469.7L409.01 485.7M410.25 469.7L408.25 474.7M413.49 469.7L410.49 472.7M416.74 469.7L408.74 480.7M419.98 469.7L415.98 478.7M423.22 469.7L430.22 481.7M426.46 469.7L432.46 476.7M429.7 469.7L436.7 475.7M432.95 469.7L438.95 475.7M436.19 469.7L441.19 474.7M439.43 469.7L410.43 468.7M442.67 469.7L437.67 472.7M445.91 469.7L434.91 483.7M449.16 469.7L443.16 476.7M452.4 469.7L446.4 470.7M455.64 469.7L449.64 470.7M458.88 469.7L452.88 474.7M462.12 469.7L455.12 475.7M465.37 469.7L460.37 473.7M468.61 469.7L465.61 486.7M471.85 469.7L474.85 486.7M475.09 469.7L479.09 478.7M478.33 469.7L484.33 478.7M481.57 469.7L488.57 478.7M484.82 469.7L489.82 477.7M488.06 469.7L498.06 481.7M491.3 469.7L501.3 480.7M494.54 469.7L503.54 481.7M497.78 469.7L507.78 481.7M501.03 469.7L509.03 479.7M504.27 469.7L510.27 477.7M507.51 469.7L503.51 472.7M510.75 469.7L507.75 466.7M513.99 469.7L508.99 467.7M517.24 469.7L520.24 473.7M520.48 469.7L516.48 471.7M523.72 469.7L517.72 471.7M526.96 469.7L503.96 457.7M530.2 469.7L534.2 471.7M533.45 469.7L530.45 470.7M536.69 469.7L544.69 474.7M539.93 469.7L548.93 474.7M543.17 469.7L551.17 474.7M546.41 469.7L553.41 473.7M549.66 469.7L557.66 474.7M552.9 469.7L558.9 481.7M556.14 469.7L563.14 482.7M559.38 469.7L564.38 478.7M562.62 469.7L565.62 477.7M565.86 469.7L567.86 478.7M569.11 469.7L572.11 477.7M572.35 469.7L575.35 476.7M575.59 469.7L579.59 477.7M578.83 469.7L583.83 477.7M582.07 469.7L586.07 476.7M585.32 469.7L577.32 471.7M588.56 469.7L581.56 470.7M591.8 469.7L585.8 471.7" fill="none" stroke="#000" stroke-width="1.2" stroke-linecap="round"/>
<path d="M51.02 470.8L48.4 471.7L49.3 469.08ZM53.02 468.6L55.64 467.7L54.74 470.32ZM56.78 471.08L53.88 470.7L55.97 468.65ZM61.22 469.08L62.13 471.7L59.5 470.8ZM62.45 470.75L60.37 468.7L63.27 468.32ZM67.23 470.8L64.61 471.7L65.51 469.08ZM69.75 471.08L66.85 470.7L68.94 468.65ZM71.51 469.79L71.09 466.7L73.79 468.28ZM72.84 467.47L72.34 463.7L75.62 465.62ZM73.81 466.29L72.58 462.7L76.17 463.94ZM76 467.81L73.82 464.7L77.61 464.9ZM77.85 474.92L74.06 474.7L76.57 471.85ZM78.13 468.24L75.3 465.7L79.04 465.04ZM80.06 472.15L76.54 470.7L79.85 468.82ZM93.2 471.37L89.79 469.7L93.2 468.03ZM95.17 470.83L92.03 468.7L95.65 467.53ZM99.69 471.37L96.27 469.7L99.69 468.03ZM103.88 471.34L100.51 469.7L103.88 468.06ZM110.19 468.54L112.75 470.7L109.47 471.4ZM112.43 468.45L115 469.7L112.43 470.95ZM117.75 474.04L116.74 477.7L114.47 474.65ZM119.56 474.52L117.48 477.7L116.25 474.1ZM121.23 477.84L118.72 480.7L118.01 476.97ZM126.63 475.28L124.96 478.7L123.3 475.28ZM131.64 478.02L130.71 481.7L128.38 478.7ZM135.41 481.02L134.45 484.7L132.14 481.68ZM139.62 485.01L138.69 488.7L136.36 485.7ZM142.1 487.08L140.93 490.7L138.8 487.55ZM143.59 480.17L142.17 483.7L140.27 480.41ZM146.08 478.28L144.42 481.7L142.75 478.28ZM147.22 470.95L144.66 469.7L147.22 468.45ZM149.57 471.66L145.9 470.7L148.92 468.4ZM149.56 471.37L146.14 469.7L149.56 468.03ZM150.23 491.19L147.38 493.7L147.16 489.91ZM152.69 488.45L149.63 490.7L149.73 486.9ZM158.88 483.39L155.87 485.7L155.9 481.9ZM161.49 479.97L158.11 481.7L158.83 477.97ZM155.57 460.59L153.85 457.2L157.58 457.93ZM162.36 479.19L158.59 479.7L160.51 476.42ZM164.61 479.3L160.83 479.7L162.85 476.48ZM166.87 478.57L163.08 478.7L165.32 475.63ZM166.34 468L163.32 465.7L166.99 464.74ZM170.33 451.42L169.56 447.7L172.97 449.38ZM181.43 465.13L179.8 461.7L183.51 462.53ZM190.84 472.66L187.04 472.7L189.35 469.68ZM194.99 472.87L191.29 473.7L192.91 470.27ZM198.67 474.56L195.53 476.7L195.78 472.91ZM208.46 470.68L210.77 473.7L206.97 473.66ZM210.53 469.82L213.01 472.7L209.22 472.89ZM215.24 471.48L217.25 474.7L213.47 474.3ZM216.19 469.68L218.5 472.7L214.7 472.66ZM216.74 476.47L214.74 479.7L213.42 476.14ZM222.18 481.09L220.98 484.7L218.88 481.53ZM220.79 470.86L218.22 468.7L221.5 468ZM224.75 471.4L221.46 470.7L224.03 468.54ZM228.8 471.28L225.71 471.7L227.28 469ZM230.91 471.15L227.95 469.7L230.91 468.25ZM235.09 471.08L232.19 470.7L234.28 468.65ZM237.52 470.75L235.43 468.7L238.33 468.32ZM241.29 484.55L239.17 487.7L237.99 484.09ZM247.73 481.14L246.41 484.7L244.42 481.47ZM249.82 479.28L248.16 482.7L246.49 479.28ZM253.39 476.21L251.9 479.7L250.06 476.37ZM256.31 475.28L254.64 478.7L252.97 475.28ZM259.26 474.4L257.38 477.7L255.93 474.19ZM263.01 469.48L264.12 472.7L260.9 471.59ZM254.08 479.9L250.37 480.7L252.02 477.28ZM268.82 467.03L272.61 466.7L270.54 469.89ZM273.08 467.2L276.85 467.7L274.14 470.36ZM275.38 466.53L279.09 465.7L277.47 469.13ZM280.54 466.51L284.33 466.7L281.85 469.58ZM281.79 467.42L285.58 467.7L283.02 470.52ZM285.62 471.17L284.32 474.7L282.34 471.5ZM294.81 479.91L295.06 483.7L291.92 481.56ZM301.69 482.95L302.3 486.7L298.97 484.87ZM303.15 481.92L303.54 485.7L300.32 483.69ZM304.54 479.91L304.79 483.7L301.64 481.56ZM305.13 476.9L305.03 480.7L302.1 478.28ZM308.66 469.94L311.27 472.7L307.49 473.06ZM311.6 469.26L314.51 471.7L310.79 472.49ZM314.61 470.56L316.75 473.7L312.96 473.45ZM315.44 468.88L318 471.7L314.21 471.98ZM313.05 482.15L310.24 484.7L309.96 480.91ZM324.08 473.92L324.48 477.7L321.26 475.69ZM328.94 474.98L329.72 478.7L326.31 477.03ZM334.34 474.27L335.96 477.7L332.26 476.87ZM334.88 475.91L335.2 479.7L332.02 477.63ZM339.42 475.04L340.45 478.7L336.93 477.25ZM341.69 474.03L342.69 477.7L339.19 476.23ZM345.12 479.9L344.93 483.7L342.05 481.22ZM349.13 479.9L349.17 483.7L346.16 481.39ZM351.5 478.9L351.41 482.7L348.47 480.3ZM354.35 483.96L353.66 487.7L351.14 484.86ZM362.34 476.23L363.9 479.7L360.21 478.79ZM364.55 475.25L366.14 478.7L362.44 477.83ZM368.82 476.23L370.38 479.7L366.69 478.79ZM368.39 474.11L369.62 477.7L366.03 476.46ZM368.23 473.92L367.87 477.7L365.11 475.09ZM371.61 474.93L371.11 478.7L368.45 475.99ZM374.14 473.98L373.35 477.7L370.91 474.79ZM378.34 472.91L378.59 476.7L375.45 474.56ZM372.85 483.39L369.83 485.7L369.87 481.9ZM372.31 486.7L369.08 488.7L369.49 484.92ZM378.57 481.73L375.32 483.7L375.76 479.93ZM384.58 479.39L381.56 481.7L381.6 477.9ZM392.47 475.28L390.8 478.7L389.14 475.28ZM398.49 471.23L400.04 474.7L396.35 473.79ZM400.66 470.27L402.29 473.7L398.58 472.87ZM402.99 483.19L401.53 486.7L399.66 483.39ZM407.02 483.11L405.77 486.7L403.72 483.5ZM410.24 482.1L409.01 485.7L406.93 482.52ZM411.07 472.15L408.25 474.7L407.97 470.91ZM413.72 471.59L410.49 472.7L411.6 469.48ZM412.09 478.92L408.74 480.7L409.4 476.96ZM418.89 476.26L415.98 478.7L415.84 474.9ZM429.94 477.91L430.22 481.7L427.06 479.59ZM431.5 473.02L432.46 476.7L428.97 475.19ZM435.2 472.21L436.7 475.7L433.03 474.74ZM437.71 472.11L438.95 475.7L435.35 474.46ZM439.95 471.11L441.19 474.7L437.6 473.46ZM413.79 470.48L410.43 468.7L413.9 467.15ZM441.46 472.37L437.67 472.7L439.74 469.51ZM438.33 482.04L434.91 483.7L435.71 479.99ZM446.64 475.19L443.16 476.7L444.11 473.02ZM450.04 471.78L446.4 470.7L449.49 468.5ZM453.28 471.78L449.64 470.7L452.73 468.5ZM456.57 473.79L452.88 474.7L454.44 471.23ZM458.8 474.74L455.12 475.7L456.63 472.21ZM464.07 472.87L460.37 473.7L461.99 470.27ZM467.84 483.63L465.61 486.7L464.56 483.05ZM475.9 483.05L474.85 486.7L472.62 483.63ZM479.23 474.9L479.09 478.7L476.18 476.26ZM483.82 474.93L484.33 478.7L481.05 476.78ZM487.79 474.98L488.57 478.7L485.16 477.03ZM489.42 473.92L489.82 477.7L486.59 475.69ZM497.15 478.01L498.06 481.7L494.59 480.14ZM500.24 477.05L501.3 480.7L497.77 479.29ZM502.83 477.97L503.54 481.7L500.16 479.97ZM506.88 478.01L507.78 481.7L504.32 480.14ZM508.19 475.99L509.03 479.7L505.59 478.07ZM509.55 473.97L510.27 477.7L506.89 475.97ZM507.19 471.99L503.51 472.7L505.22 469.36ZM508.86 469.92L507.75 466.7L510.98 467.81ZM511.55 470.52L508.99 467.7L512.78 467.42ZM519.53 470.02L520.24 473.7L516.9 471.99ZM519.99 471.67L516.48 471.7L518.61 468.91ZM521.49 472.2L517.72 471.7L520.43 469.04ZM506.22 460.76L503.96 457.7L507.76 457.8ZM532.07 468.91L534.2 471.7L530.69 471.67ZM533.34 471.08L530.45 470.7L532.53 468.65ZM542.67 471.48L544.69 474.7L540.91 474.3ZM546.75 471.59L548.93 474.7L545.13 474.5ZM549.16 471.48L551.17 474.7L547.39 474.3ZM551.27 470.56L553.41 473.7L549.62 473.45ZM555.64 471.48L557.66 474.7L553.88 474.3ZM558.86 477.9L558.9 481.7L555.88 479.39ZM562.99 478.9L563.14 482.7L560.05 480.48ZM564.18 474.91L564.38 478.7L561.27 476.52ZM565.98 473.92L565.62 477.7L562.86 475.09ZM568.75 475L567.86 478.7L565.5 475.73ZM572.47 473.92L572.11 477.7L569.35 475.09ZM575.53 472.9L575.35 476.7L572.47 474.22ZM579.55 473.9L579.59 477.7L576.57 475.39ZM583.43 473.92L583.83 477.7L580.61 475.69ZM585.83 472.91L586.07 476.7L582.93 474.56ZM581.03 472.49L577.32 471.7L580.23 469.26ZM585.17 471.87L581.56 470.7L584.7 468.57ZM589.57 472.2L585.8 471.7L588.51 469.04Z" fill="#000" stroke="#000" stroke-width="0.8" stroke-linejoin="round"/>
<g stroke="#9a9a9a" stroke-width="1.15" stroke-dasharray="1.7 4.78"><line x1="50" y1="514.7" x2="591.3" y2="514.7"/><line x1="50" y1="492.2" x2="591.3" y2="492.2"/><line x1="50" y1="469.7" x2="591.3" y2="469.7"/><line x1="50" y1="447.2" x2="591.3" y2="447.2"/><line x1="50" y1="424.7" x2="591.3" y2="424.7"/></g>
<g stroke="#9a9a9a" stroke-width="1.5" stroke-dasharray="1.3 5.15"><line x1="50.3" y1="429.45" x2="50.3" y2="513.7"/><line x1="128.11" y1="429.45" x2="128.11" y2="513.7"/><line x1="205.91" y1="429.45" x2="205.91" y2="513.7"/><line x1="283.72" y1="429.45" x2="283.72" y2="513.7"/><line x1="361.52" y1="429.45" x2="361.52" y2="513.7"/><line x1="439.33" y1="429.45" x2="439.33" y2="513.7"/><line x1="517.14" y1="429.45" x2="517.14" y2="513.7"/></g>
<text id="t78" transform="translate(37.55 518.9) scale(0.85 1)" font-size="12.2" fill="#000" font-weight="normal" textLength="6.53" lengthAdjust="spacing" stroke="#000" stroke-width="0.38">0</text>
<text id="t79" transform="translate(37.55 496.4) scale(0.85 1)" font-size="12.2" fill="#000" font-weight="normal" textLength="6.53" lengthAdjust="spacing" stroke="#000" stroke-width="0.38">1</text>
<text id="t80" transform="translate(37.55 473.9) scale(0.85 1)" font-size="12.2" fill="#000" font-weight="normal" textLength="6.53" lengthAdjust="spacing" stroke="#000" stroke-width="0.38">2</text>
<text id="t81" transform="translate(37.55 451.4) scale(0.85 1)" font-size="12.2" fill="#000" font-weight="normal" textLength="6.53" lengthAdjust="spacing" stroke="#000" stroke-width="0.38">3</text>
<text id="t82" transform="translate(38.55 428.9) scale(0.85 1)" font-size="12.2" fill="#000" font-weight="normal" textLength="4.18" lengthAdjust="spacing" stroke="#000" stroke-width="0.38">4</text>
<text id="t83" transform="translate(38.9 528.9) scale(0.78 1)" font-size="12" fill="#000" font-weight="normal" textLength="30.26" lengthAdjust="spacing" stroke="#000" stroke-width="0.42">7APR</text>
<text id="t84" transform="translate(116.32 528.9) scale(0.78 1)" font-size="12" fill="#000" font-weight="normal" textLength="30.26" lengthAdjust="spacing" stroke="#000" stroke-width="0.42">8APR</text>
<text id="t85" transform="translate(193.74 528.9) scale(0.78 1)" font-size="12" fill="#000" font-weight="normal" textLength="31.54" lengthAdjust="spacing" stroke="#000" stroke-width="0.42">9APR</text>
<text id="t86" transform="translate(268.08 528.9) scale(0.78 1)" font-size="12" fill="#000" font-weight="normal" textLength="39.42" lengthAdjust="spacing" stroke="#000" stroke-width="0.42">10APR</text>
<text id="t87" transform="translate(346.5 528.9) scale(0.78 1)" font-size="12" fill="#000" font-weight="normal" textLength="38.14" lengthAdjust="spacing" stroke="#000" stroke-width="0.42">11APR</text>
<text id="t88" transform="translate(423.91 528.9) scale(0.78 1)" font-size="12" fill="#000" font-weight="normal" textLength="39.42" lengthAdjust="spacing" stroke="#000" stroke-width="0.42">12APR</text>
<text id="t89" transform="translate(502.33 528.9) scale(0.78 1)" font-size="12" fill="#000" font-weight="normal" textLength="38.14" lengthAdjust="spacing" stroke="#000" stroke-width="0.42">13APR</text>
<text id="t90" transform="translate(38.3 540) scale(0.85 1)" font-size="12" fill="#000" font-weight="normal" textLength="28" lengthAdjust="spacing" stroke="#000" stroke-width="0.42">2026</text>
<text id="t91" transform="translate(72.3 422.9) scale(0.96 1)" font-size="14.8" fill="#000" font-weight="normal" textLength="38.2" lengthAdjust="spacing" stroke="#000" stroke-width="0.42">Vento</text>
<text id="t92" transform="translate(117.8 422.9) scale(0.94 1)" font-size="14.8" fill="#000" font-weight="normal" textLength="18.53" lengthAdjust="spacing" stroke="#000" stroke-width="0.42">em</text>
<text id="t93" transform="translate(145.4 422.9) scale(1 1)" font-size="14.8" fill="#000" font-weight="normal" textLength="29.4" lengthAdjust="spacing" stroke="#000" stroke-width="0.42">10m</text>
<text id="t94" transform="translate(183.1 422.9) scale(1 1)" font-size="14.8" fill="#000" font-weight="normal" textLength="43.8" lengthAdjust="spacing" stroke="#000" stroke-width="0.42">(m/s)</text>
<g stroke="#000" stroke-width="1.7"><line x1="49.6" y1="550.5" x2="592.7" y2="550.5"/><line x1="49.6" y1="640.8" x2="592.7" y2="640.8"/><line x1="50.4" y1="550.5" x2="50.4" y2="640.8"/><line x1="591.8" y1="550.5" x2="591.8" y2="640.8"/></g>
<g stroke="#000" stroke-width="1.3"><line x1="46.5" y1="640.8" x2="50.4" y2="640.8"/><line x1="46.5" y1="618.22" x2="50.4" y2="618.22"/><line x1="46.5" y1="595.65" x2="50.4" y2="595.65"/><line x1="46.5" y1="573.08" x2="50.4" y2="573.08"/><line x1="46.5" y1="550.5" x2="50.4" y2="550.5"/><line x1="50.4" y1="640.8" x2="50.4" y2="644.1"/><line x1="128.21" y1="640.8" x2="128.21" y2="644.1"/><line x1="206.01" y1="640.8" x2="206.01" y2="644.1"/><line x1="283.82" y1="640.8" x2="283.82" y2="644.1"/><line x1="361.62" y1="640.8" x2="361.62" y2="644.1"/><line x1="439.43" y1="640.8" x2="439.43" y2="644.1"/><line x1="517.24" y1="640.8" x2="517.24" y2="644.1"/></g>
<polyline points="50,578.59 53.27,575.33 56.86,587.58 60.13,581.05 63.07,581.37 66.34,588.4 69.61,594.93 72.88,599.02 76.14,588.4 79.41,585.13 82.68,579.41 85.95,566.34 89.22,563.07 92.16,563.89 95.75,573.69 99.02,574.18 102.29,589.22 105.56,606.37 108.82,610.46 111.76,608.01 115.36,611.27 118.3,614.05 121.9,603.92 125.16,596.57 128.43,593.79 131.7,596.57 134.97,595.42 138.24,596.57 141.5,598.69 144.77,599.84 147.71,603.92 150,598.2 154.08,600.65 157.35,598.69 160.62,591.67 163.89,587.58 167.16,583.82 170.42,582.35 173.69,586.27 176.96,592.81 179.74,607.19 183.5,612.09 186.27,611.27 190.03,615.36 193.3,618.63 196.57,615.03 199.84,610.13 203.1,605.23 206.37,598.2 209.15,599.02 212.09,594.44 215.36,590.03 217.81,596.57 221.08,603.59 224.35,606.7 228.43,606.37 231.7,609.15 234.97,607.52 238.24,598.2 241.5,593.79 244.77,591.34 248.04,592.16 250,593.3 254.08,598.2 257.35,608.82 260.62,619.44 264.38,630.07 267.65,630.88 270.92,630.07 274.51,625.98 277.45,615.36 280.23,608.01 283.5,603.1 286.76,601.96 290.03,596.08 293.3,597.71 296.57,607.19 299.84,608.01 303.1,611.27 306.37,605.56 309.64,607.52 312.91,604.74 316.18,596.57 319.44,592.48 322.71,588.4 325.98,586.76 329.25,587.25 332.52,590.03 335.78,603.92 339.05,615.36 342.32,621.9 346.41,622.71 350,623.2 352.45,620.26 355.72,609.64 358.99,599.02 361.76,592.16 365.03,589.54 367.97,583.5 371.24,582.35 374.51,587.91 377.78,593.3 381.05,598.2 384.31,597.88 387.58,600.65 390.85,599.02 393.79,590.03 397.39,582.68 400.65,579.08 403.92,580.23 407.19,577.45 410.46,579.74 412.91,594.12 416.18,615.36 419.44,618.3 423.2,615.69 426.47,617.81 429.74,616.18 432.52,607.19 435.78,595.75 439.87,588.4 443.14,586.76 446.41,581.05 450,578.59 452.45,589.22 455.72,592.81 458.99,597.06 462.75,598.69 468.3,598.2 471.24,590.03 474.51,583.5 478.59,578.1 481.86,576.96 485.13,578.59 488.4,583.5 490.85,597.39 494.12,610.46 498.2,620.26 501.47,625.16 503.92,625.98 507.19,616.18 510.46,606.37 514.05,598.2 516.99,586.76 519.93,585.95 523.53,591.67 526.8,579.74 530.07,588.89 533.33,597.39 529.8,587.91 533.07,597.32 536.34,600.72 539.61,601.63 543.27,604.64 546.8,601.63 550.07,597.71 553.33,591.57 556.34,583.73 559.22,583.73 562.48,585.56 565.75,588.17 569.02,603.59 572.29,615.36 575.56,621.24 579.48,625.16 582.75,628.43 585.36,628.43 588.63,619.28 591.63,610.39" fill="none" stroke="#2a46f6" stroke-width="1.4" stroke-linejoin="round" stroke-linecap="round"/>
<g stroke="#9a9a9a" stroke-width="1.15" stroke-dasharray="1.7 4.78"><line x1="50" y1="640.8" x2="591.3" y2="640.8"/><line x1="50" y1="618.22" x2="591.3" y2="618.22"/><line x1="50" y1="595.65" x2="591.3" y2="595.65"/><line x1="50" y1="573.08" x2="591.3" y2="573.08"/><line x1="50" y1="550.5" x2="591.3" y2="550.5"/></g>
<g stroke="#9a9a9a" stroke-width="1.5" stroke-dasharray="1.3 5.15"><line x1="50.3" y1="555.25" x2="50.3" y2="639.8"/><line x1="128.11" y1="555.25" x2="128.11" y2="639.8"/><line x1="205.91" y1="555.25" x2="205.91" y2="639.8"/><line x1="283.72" y1="555.25" x2="283.72" y2="639.8"/><line x1="361.52" y1="555.25" x2="361.52" y2="639.8"/><line x1="439.33" y1="555.25" x2="439.33" y2="639.8"/><line x1="517.14" y1="555.25" x2="517.14" y2="639.8"/></g>
<text id="t95" transform="translate(19.9 645) scale(0.85 1)" font-size="12.2" fill="#000" font-weight="normal" textLength="27.29" lengthAdjust="spacing" stroke="#000" stroke-width="0.38">1008</text>
<text id="t96" transform="translate(19.9 622.42) scale(0.85 1)" font-size="12.2" fill="#000" font-weight="normal" textLength="27.29" lengthAdjust="spacing" stroke="#000" stroke-width="0.38">1010</text>
<text id="t97" transform="translate(19.9 599.85) scale(0.85 1)" font-size="12.2" fill="#000" font-weight="normal" textLength="27.29" lengthAdjust="spacing" stroke="#000" stroke-width="0.38">1012</text>
<text id="t98" transform="translate(19.9 577.28) scale(0.85 1)" font-size="12.2" fill="#000" font-weight="normal" textLength="27.29" lengthAdjust="spacing" stroke="#000" stroke-width="0.38">1014</text>
<text id="t99" transform="translate(19.9 554.7) scale(0.85 1)" font-size="12.2" fill="#000" font-weight="normal" textLength="27.29" lengthAdjust="spacing" stroke="#000" stroke-width="0.38">1016</text>
<text id="t100" transform="translate(38.9 655) scale(0.78 1)" font-size="12" fill="#000" font-weight="normal" textLength="30.26" lengthAdjust="spacing" stroke="#000" stroke-width="0.42">7APR</text>
<text id="t101" transform="translate(116.32 655) scale(0.78 1)" font-size="12" fill="#000" font-weight="normal" textLength="30.26" lengthAdjust="spacing" stroke="#000" stroke-width="0.42">8APR</text>
<text id="t102" transform="translate(193.74 655) scale(0.78 1)" font-size="12" fill="#000" font-weight="normal" textLength="31.54" lengthAdjust="spacing" stroke="#000" stroke-width="0.42">9APR</text>
<text id="t103" transform="translate(268.08 655) scale(0.78 1)" font-size="12" fill="#000" font-weight="normal" textLength="39.42" lengthAdjust="spacing" stroke="#000" stroke-width="0.42">10APR</text>
<text id="t104" transform="translate(346.5 655) scale(0.78 1)" font-size="12" fill="#000" font-weight="normal" textLength="38.14" lengthAdjust="spacing" stroke="#000" stroke-width="0.42">11APR</text>
<text id="t105" transform="translate(423.91 655) scale(0.78 1)" font-size="12" fill="#000" font-weight="normal" textLength="39.42" lengthAdjust="spacing" stroke="#000" stroke-width="0.42">12APR</text>
<text id="t106" transform="translate(502.33 655) scale(0.78 1)" font-size="12" fill="#000" font-weight="normal" textLength="38.14" lengthAdjust="spacing" stroke="#000" stroke-width="0.42">13APR</text>
<text id="t107" transform="translate(38.3 666.1) scale(0.85 1)" font-size="12" fill="#000" font-weight="normal" textLength="28" lengthAdjust="spacing" stroke="#000" stroke-width="0.42">2026</text>
<text id="t108" transform="translate(71.6 548.2) scale(1 1)" font-size="14.8" fill="#000" font-weight="normal" textLength="53" lengthAdjust="spacing" stroke="#000" stroke-width="0.42">Pressao</text>
<text id="t109" transform="translate(132.7 548.2) scale(0.94 1)" font-size="14.8" fill="#000" font-weight="normal" textLength="14.79" lengthAdjust="spacing" stroke="#000" stroke-width="0.42">ao</text>
<text id="t110" transform="translate(156.3 548.2) scale(0.97 1)" font-size="14.8" fill="#000" font-weight="normal" textLength="32.34" lengthAdjust="spacing" stroke="#000" stroke-width="0.42">Nivel</text>
<text id="t111" transform="translate(197.2 548.2) scale(0.99 1)" font-size="14.8" fill="#000" font-weight="normal" textLength="38.27" lengthAdjust="spacing" stroke="#000" stroke-width="0.42">Medio</text>
<text id="t112" transform="translate(242.1 548.2) scale(0.97 1)" font-size="14.8" fill="#000" font-weight="normal" textLength="15.63" lengthAdjust="spacing" stroke="#000" stroke-width="0.42">do</text>
<text id="t113" transform="translate(265 548.2) scale(0.97 1)" font-size="14.8" fill="#000" font-weight="normal" textLength="24.65" lengthAdjust="spacing" stroke="#000" stroke-width="0.42">Mar</text>
<text id="t114" transform="translate(295.8 548.2) scale(1 1)" font-size="14.8" fill="#000" font-weight="normal" textLength="39.5" lengthAdjust="spacing" stroke="#000" stroke-width="0.42">(hPa)</text>
<g stroke="#000" stroke-width="1.7"><line x1="49.6" y1="676.7" x2="592.7" y2="676.7"/><line x1="49.6" y1="766.3" x2="592.7" y2="766.3"/><line x1="50.4" y1="676.7" x2="50.4" y2="766.3"/><line x1="591.8" y1="676.7" x2="591.8" y2="766.3"/></g>
<g stroke="#000" stroke-width="1.3"><line x1="46.5" y1="766.3" x2="50.4" y2="766.3"/><line x1="46.5" y1="748.38" x2="50.4" y2="748.38"/><line x1="46.5" y1="730.46" x2="50.4" y2="730.46"/><line x1="46.5" y1="712.54" x2="50.4" y2="712.54"/><line x1="46.5" y1="694.62" x2="50.4" y2="694.62"/><line x1="46.5" y1="676.7" x2="50.4" y2="676.7"/><line x1="50.4" y1="766.3" x2="50.4" y2="769.6"/><line x1="128.21" y1="766.3" x2="128.21" y2="769.6"/><line x1="206.01" y1="766.3" x2="206.01" y2="769.6"/><line x1="283.82" y1="766.3" x2="283.82" y2="769.6"/><line x1="361.62" y1="766.3" x2="361.62" y2="769.6"/><line x1="439.43" y1="766.3" x2="439.43" y2="769.6"/><line x1="517.24" y1="766.3" x2="517.24" y2="769.6"/></g>
<g fill="#f7ad70" stroke="#f0802a" stroke-width="0.8"><rect x="52.52" y="691.04" width="2.25" height="75.26"/><rect x="55.76" y="707.16" width="2.25" height="59.14"/><rect x="59" y="720.6" width="2.25" height="45.7"/><rect x="62.24" y="709.85" width="2.25" height="56.45"/><rect x="65.48" y="708.51" width="2.25" height="57.79"/><rect x="68.73" y="725.08" width="2.25" height="41.22"/><rect x="71.97" y="717.92" width="2.25" height="48.38"/><rect x="75.21" y="712" width="2.25" height="54.3"/><rect x="78.45" y="708.96" width="2.25" height="57.34"/><rect x="81.69" y="708.96" width="2.25" height="57.34"/><rect x="84.94" y="707.16" width="2.25" height="59.14"/><rect x="88.18" y="704.48" width="2.25" height="61.82"/><rect x="91.42" y="700" width="2.25" height="66.3"/><rect x="94.66" y="699.1" width="2.25" height="67.2"/><rect x="97.9" y="698.2" width="2.25" height="68.1"/><rect x="101.15" y="698.38" width="2.25" height="67.92"/><rect x="104.39" y="695.52" width="2.25" height="70.78"/><rect x="107.63" y="694.62" width="2.25" height="71.68"/><rect x="110.87" y="697.31" width="2.25" height="68.99"/><rect x="114.11" y="694.62" width="2.25" height="71.68"/><rect x="117.36" y="694.62" width="2.25" height="71.68"/><rect x="120.6" y="691.93" width="2.25" height="74.37"/><rect x="123.84" y="690.14" width="2.25" height="76.16"/><rect x="127.08" y="698.2" width="2.25" height="68.1"/><rect x="130.32" y="703.58" width="2.25" height="62.72"/><rect x="133.56" y="715.23" width="2.25" height="51.07"/><rect x="136.81" y="718.81" width="2.25" height="47.49"/><rect x="140.05" y="717.02" width="2.25" height="49.28"/><rect x="143.29" y="722.4" width="2.25" height="43.9"/><rect x="146.53" y="723.29" width="2.25" height="43.01"/><rect x="149.77" y="731.36" width="2.25" height="34.94"/><rect x="153.02" y="725.98" width="2.25" height="40.32"/><rect x="156.26" y="717.92" width="2.25" height="48.38"/><rect x="159.5" y="724.19" width="2.25" height="42.11"/><rect x="162.74" y="708.96" width="2.25" height="57.34"/><rect x="165.98" y="685.66" width="2.25" height="80.64"/><rect x="169.23" y="700" width="2.25" height="66.3"/><rect x="172.47" y="698.2" width="2.25" height="68.1"/><rect x="175.71" y="684.76" width="2.25" height="81.54"/><rect x="178.95" y="678" width="2.25" height="88.3"/><rect x="182.19" y="678" width="2.25" height="88.3"/><rect x="185.44" y="678" width="2.25" height="88.3"/><rect x="188.68" y="678" width="2.25" height="88.3"/><rect x="191.92" y="678" width="2.25" height="88.3"/><rect x="195.16" y="678" width="2.25" height="88.3"/><rect x="198.4" y="678" width="2.25" height="88.3"/><rect x="201.65" y="678" width="2.25" height="88.3"/><rect x="204.89" y="678" width="2.25" height="88.3"/><rect x="208.13" y="678" width="2.25" height="88.3"/><rect x="211.37" y="678" width="2.25" height="88.3"/><rect x="214.61" y="678" width="2.25" height="88.3"/><rect x="217.85" y="678" width="2.25" height="88.3"/><rect x="221.1" y="678" width="2.25" height="88.3"/><rect x="224.34" y="678" width="2.25" height="88.3"/><rect x="227.58" y="678" width="2.25" height="88.3"/><rect x="230.82" y="678" width="2.25" height="88.3"/><rect x="234.06" y="678" width="2.25" height="88.3"/><rect x="237.31" y="678" width="2.25" height="88.3"/><rect x="240.55" y="678" width="2.25" height="88.3"/><rect x="243.79" y="678" width="2.25" height="88.3"/><rect x="247.03" y="678" width="2.25" height="88.3"/><rect x="250.27" y="678" width="2.25" height="88.3"/><rect x="253.52" y="678" width="2.25" height="88.3"/><rect x="256.76" y="682.97" width="2.25" height="83.33"/><rect x="260" y="684.76" width="2.25" height="81.54"/><rect x="263.24" y="678" width="2.25" height="88.3"/><rect x="266.48" y="678" width="2.25" height="88.3"/><rect x="269.73" y="678" width="2.25" height="88.3"/><rect x="272.97" y="678" width="2.25" height="88.3"/><rect x="276.21" y="678" width="2.25" height="88.3"/><rect x="279.45" y="678" width="2.25" height="88.3"/><rect x="282.69" y="678" width="2.25" height="88.3"/><rect x="285.93" y="678" width="2.25" height="88.3"/><rect x="289.18" y="678" width="2.25" height="88.3"/><rect x="292.42" y="678" width="2.25" height="88.3"/><rect x="295.66" y="678" width="2.25" height="88.3"/><rect x="298.9" y="678" width="2.25" height="88.3"/><rect x="302.14" y="678" width="2.25" height="88.3"/><rect x="305.39" y="678" width="2.25" height="88.3"/><rect x="308.63" y="678" width="2.25" height="88.3"/><rect x="311.87" y="678" width="2.25" height="88.3"/><rect x="315.11" y="678" width="2.25" height="88.3"/><rect x="318.35" y="678" width="2.25" height="88.3"/><rect x="321.6" y="678" width="2.25" height="88.3"/><rect x="324.84" y="678" width="2.25" height="88.3"/><rect x="328.08" y="678" width="2.25" height="88.3"/><rect x="331.32" y="678" width="2.25" height="88.3"/><rect x="334.56" y="678" width="2.25" height="88.3"/><rect x="337.81" y="678" width="2.25" height="88.3"/><rect x="341.05" y="678" width="2.25" height="88.3"/><rect x="344.29" y="678" width="2.25" height="88.3"/><rect x="347.53" y="678" width="2.25" height="88.3"/><rect x="350.77" y="678" width="2.25" height="88.3"/><rect x="354.02" y="678" width="2.25" height="88.3"/><rect x="357.26" y="678" width="2.25" height="88.3"/><rect x="360.5" y="678" width="2.25" height="88.3"/><rect x="363.74" y="678" width="2.25" height="88.3"/><rect x="366.98" y="678" width="2.25" height="88.3"/><rect x="370.22" y="678" width="2.25" height="88.3"/><rect x="373.47" y="678" width="2.25" height="88.3"/><rect x="376.71" y="678" width="2.25" height="88.3"/><rect x="379.95" y="678" width="2.25" height="88.3"/><rect x="383.19" y="678" width="2.25" height="88.3"/><rect x="386.43" y="678" width="2.25" height="88.3"/><rect x="389.68" y="678" width="2.25" height="88.3"/><rect x="392.92" y="678" width="2.25" height="88.3"/><rect x="396.16" y="679.39" width="2.25" height="86.91"/><rect x="399.4" y="705.37" width="2.25" height="60.93"/><rect x="402.64" y="745.69" width="2.25" height="20.61"/><rect x="405.89" y="710.75" width="2.25" height="55.55"/><rect x="409.13" y="685.66" width="2.25" height="80.64"/><rect x="412.37" y="678" width="2.25" height="88.3"/><rect x="415.61" y="678" width="2.25" height="88.3"/><rect x="418.85" y="687.45" width="2.25" height="78.85"/><rect x="422.1" y="703.13" width="2.25" height="63.17"/><rect x="425.34" y="689.69" width="2.25" height="76.61"/><rect x="428.58" y="695.96" width="2.25" height="70.34"/><rect x="431.82" y="685.66" width="2.25" height="80.64"/><rect x="435.06" y="678" width="2.25" height="88.3"/><rect x="438.3" y="678" width="2.25" height="88.3"/><rect x="441.55" y="682.08" width="2.25" height="84.22"/><rect x="444.79" y="678" width="2.25" height="88.3"/><rect x="448.03" y="678" width="2.25" height="88.3"/><rect x="451.27" y="678" width="2.25" height="88.3"/><rect x="454.51" y="678" width="2.25" height="88.3"/><rect x="457.76" y="678" width="2.25" height="88.3"/><rect x="461" y="678" width="2.25" height="88.3"/><rect x="464.24" y="678" width="2.25" height="88.3"/><rect x="467.48" y="678" width="2.25" height="88.3"/><rect x="470.72" y="678" width="2.25" height="88.3"/><rect x="473.97" y="678" width="2.25" height="88.3"/><rect x="477.21" y="678" width="2.25" height="88.3"/><rect x="480.45" y="687.45" width="2.25" height="78.85"/><rect x="483.69" y="678" width="2.25" height="88.3"/><rect x="486.93" y="678" width="2.25" height="88.3"/><rect x="490.18" y="678" width="2.25" height="88.3"/><rect x="493.42" y="678" width="2.25" height="88.3"/><rect x="496.66" y="678" width="2.25" height="88.3"/><rect x="499.9" y="678" width="2.25" height="88.3"/><rect x="503.14" y="678" width="2.25" height="88.3"/><rect x="506.39" y="678" width="2.25" height="88.3"/><rect x="509.63" y="678" width="2.25" height="88.3"/><rect x="512.87" y="678" width="2.25" height="88.3"/><rect x="516.11" y="678" width="2.25" height="88.3"/><rect x="519.35" y="678" width="2.25" height="88.3"/><rect x="522.59" y="678" width="2.25" height="88.3"/><rect x="525.84" y="678" width="2.25" height="88.3"/><rect x="529.08" y="678" width="2.25" height="88.3"/><rect x="532.32" y="678" width="2.25" height="88.3"/><rect x="535.56" y="678" width="2.25" height="88.3"/><rect x="538.8" y="678" width="2.25" height="88.3"/><rect x="542.05" y="678" width="2.25" height="88.3"/><rect x="545.29" y="678" width="2.25" height="88.3"/><rect x="548.53" y="678" width="2.25" height="88.3"/><rect x="551.77" y="678" width="2.25" height="88.3"/><rect x="555.01" y="678" width="2.25" height="88.3"/><rect x="558.26" y="678" width="2.25" height="88.3"/><rect x="561.5" y="678" width="2.25" height="88.3"/><rect x="564.74" y="678" width="2.25" height="88.3"/><rect x="567.98" y="678" width="2.25" height="88.3"/><rect x="571.22" y="678" width="2.25" height="88.3"/><rect x="574.47" y="678" width="2.25" height="88.3"/><rect x="577.71" y="678" width="2.25" height="88.3"/><rect x="580.95" y="678" width="2.25" height="88.3"/><rect x="584.19" y="678" width="2.25" height="88.3"/><rect x="587.43" y="692.83" width="2.25" height="73.47"/></g>
<g fill="none" stroke="#10d810" stroke-width="1.1"><rect x="52.39" y="714.33" width="2.5" height="51.97"/><rect x="55.63" y="751.07" width="2.5" height="15.23"/><rect x="146.41" y="765.4" width="2.5" height="0.9"/><rect x="172.34" y="755.55" width="2.5" height="10.75"/><rect x="175.58" y="753.76" width="2.5" height="12.54"/><rect x="178.83" y="748.83" width="2.5" height="17.47"/><rect x="182.07" y="723.29" width="2.5" height="43.01"/><rect x="185.31" y="682.08" width="2.5" height="84.22"/><rect x="188.55" y="677.6" width="2.5" height="88.7"/><rect x="191.79" y="677.6" width="2.5" height="88.7"/><rect x="195.04" y="677.6" width="2.5" height="88.7"/><rect x="198.28" y="677.6" width="2.5" height="88.7"/><rect x="201.52" y="677.6" width="2.5" height="88.7"/><rect x="204.76" y="677.6" width="2.5" height="88.7"/><rect x="208" y="689.24" width="2.5" height="77.06"/><rect x="211.25" y="708.06" width="2.5" height="58.24"/><rect x="214.49" y="685.66" width="2.5" height="80.64"/><rect x="217.73" y="677.6" width="2.5" height="88.7"/><rect x="220.97" y="677.6" width="2.5" height="88.7"/><rect x="224.21" y="677.6" width="2.5" height="88.7"/><rect x="227.46" y="677.6" width="2.5" height="88.7"/><rect x="230.7" y="677.6" width="2.5" height="88.7"/><rect x="233.94" y="677.6" width="2.5" height="88.7"/><rect x="237.18" y="679.39" width="2.5" height="86.91"/><rect x="240.42" y="685.66" width="2.5" height="80.64"/><rect x="243.66" y="708.06" width="2.5" height="58.24"/><rect x="246.91" y="725.08" width="2.5" height="41.22"/><rect x="250.15" y="751.07" width="2.5" height="15.23"/><rect x="253.39" y="765.4" width="2.5" height="0.9"/><rect x="256.63" y="750.62" width="2.5" height="15.68"/><rect x="259.87" y="742.11" width="2.5" height="24.19"/><rect x="263.12" y="738.52" width="2.5" height="27.78"/><rect x="266.36" y="735.84" width="2.5" height="30.46"/><rect x="269.6" y="729.56" width="2.5" height="36.74"/><rect x="272.84" y="738.52" width="2.5" height="27.78"/><rect x="276.08" y="726.88" width="2.5" height="39.42"/><rect x="279.33" y="710.75" width="2.5" height="55.55"/><rect x="282.57" y="717.02" width="2.5" height="49.28"/><rect x="285.81" y="711.64" width="2.5" height="54.66"/><rect x="289.05" y="714.33" width="2.5" height="51.97"/><rect x="292.29" y="723.65" width="2.5" height="42.65"/><rect x="295.54" y="707.16" width="2.5" height="59.14"/><rect x="298.78" y="730.46" width="2.5" height="35.84"/><rect x="302.02" y="725.08" width="2.5" height="41.22"/><rect x="305.26" y="685.66" width="2.5" height="80.64"/><rect x="308.5" y="677.6" width="2.5" height="88.7"/><rect x="311.75" y="706.27" width="2.5" height="60.03"/><rect x="314.99" y="736.73" width="2.5" height="29.57"/><rect x="318.23" y="752.86" width="2.5" height="13.44"/><rect x="321.47" y="750.17" width="2.5" height="16.13"/><rect x="324.71" y="748.38" width="2.5" height="17.92"/><rect x="327.95" y="728.67" width="2.5" height="37.63"/><rect x="331.2" y="730.46" width="2.5" height="35.84"/><rect x="334.44" y="733.15" width="2.5" height="33.15"/><rect x="337.68" y="732.25" width="2.5" height="34.05"/><rect x="340.92" y="734.04" width="2.5" height="32.26"/><rect x="344.16" y="727.77" width="2.5" height="38.53"/><rect x="347.41" y="737.63" width="2.5" height="28.67"/><rect x="350.65" y="751.96" width="2.5" height="14.34"/><rect x="353.89" y="746.59" width="2.5" height="19.71"/><rect x="357.13" y="751.43" width="2.5" height="14.87"/><rect x="360.37" y="694.17" width="2.5" height="72.13"/><rect x="363.62" y="713.44" width="2.5" height="52.86"/><rect x="366.86" y="731.36" width="2.5" height="34.94"/><rect x="370.1" y="747.04" width="2.5" height="19.26"/><rect x="373.34" y="716.12" width="2.5" height="50.18"/><rect x="376.58" y="691.04" width="2.5" height="75.26"/><rect x="379.83" y="701.34" width="2.5" height="64.96"/><rect x="383.07" y="688.35" width="2.5" height="77.95"/><rect x="386.31" y="682.08" width="2.5" height="84.22"/><rect x="389.55" y="700.89" width="2.5" height="65.41"/><rect x="392.79" y="706.27" width="2.5" height="60.03"/><rect x="396.04" y="725.08" width="2.5" height="41.22"/><rect x="399.28" y="739.42" width="2.5" height="26.88"/><rect x="402.52" y="762.72" width="2.5" height="3.58"/><rect x="409" y="754.65" width="2.5" height="11.65"/><rect x="412.24" y="762.72" width="2.5" height="3.58"/><rect x="415.49" y="752.41" width="2.5" height="13.89"/><rect x="418.73" y="755.55" width="2.5" height="10.75"/><rect x="421.97" y="761.82" width="2.5" height="4.48"/><rect x="434.94" y="760.48" width="2.5" height="5.82"/><rect x="438.18" y="750.62" width="2.5" height="15.68"/><rect x="441.42" y="734.31" width="2.5" height="31.99"/><rect x="444.66" y="715.23" width="2.5" height="51.07"/><rect x="447.91" y="714.33" width="2.5" height="51.97"/><rect x="451.15" y="710.75" width="2.5" height="55.55"/><rect x="454.39" y="706.27" width="2.5" height="60.03"/><rect x="457.63" y="685.66" width="2.5" height="80.64"/><rect x="460.87" y="677.6" width="2.5" height="88.7"/><rect x="464.12" y="677.6" width="2.5" height="88.7"/><rect x="467.36" y="677.6" width="2.5" height="88.7"/><rect x="470.6" y="677.6" width="2.5" height="88.7"/><rect x="473.84" y="677.6" width="2.5" height="88.7"/><rect x="477.08" y="677.6" width="2.5" height="88.7"/><rect x="480.32" y="677.6" width="2.5" height="88.7"/><rect x="483.57" y="690.14" width="2.5" height="76.16"/><rect x="486.81" y="720.07" width="2.5" height="46.23"/><rect x="490.05" y="741.21" width="2.5" height="25.09"/><rect x="493.29" y="751.96" width="2.5" height="14.34"/><rect x="496.53" y="750.17" width="2.5" height="16.13"/><rect x="499.78" y="756.44" width="2.5" height="9.86"/><rect x="503.02" y="734.94" width="2.5" height="31.36"/><rect x="506.26" y="718.81" width="2.5" height="47.49"/><rect x="509.5" y="712.54" width="2.5" height="53.76"/><rect x="512.74" y="677.6" width="2.5" height="88.7"/><rect x="515.99" y="677.6" width="2.5" height="88.7"/><rect x="519.23" y="677.6" width="2.5" height="88.7"/><rect x="522.47" y="677.6" width="2.5" height="88.7"/><rect x="525.71" y="677.6" width="2.5" height="88.7"/><rect x="528.95" y="677.6" width="2.5" height="88.7"/><rect x="532.2" y="677.6" width="2.5" height="88.7"/><rect x="535.44" y="677.6" width="2.5" height="88.7"/><rect x="538.68" y="677.6" width="2.5" height="88.7"/><rect x="541.92" y="677.6" width="2.5" height="88.7"/><rect x="545.16" y="677.6" width="2.5" height="88.7"/><rect x="548.41" y="677.6" width="2.5" height="88.7"/><rect x="551.65" y="677.6" width="2.5" height="88.7"/><rect x="554.89" y="677.6" width="2.5" height="88.7"/><rect x="558.13" y="677.6" width="2.5" height="88.7"/><rect x="561.37" y="677.6" width="2.5" height="88.7"/><rect x="564.61" y="677.6" width="2.5" height="88.7"/><rect x="567.86" y="677.6" width="2.5" height="88.7"/><rect x="571.1" y="677.6" width="2.5" height="88.7"/><rect x="574.34" y="677.6" width="2.5" height="88.7"/><rect x="577.58" y="677.6" width="2.5" height="88.7"/><rect x="580.82" y="677.6" width="2.5" height="88.7"/><rect x="584.07" y="677.6" width="2.5" height="88.7"/><rect x="587.31" y="677.6" width="2.5" height="88.7"/></g>
<g fill="none" stroke="#1e32ff" stroke-width="1.1"><rect x="52.39" y="748.38" width="2.5" height="17.92"/><rect x="58.88" y="748.38" width="2.5" height="17.92"/><rect x="62.12" y="723.29" width="2.5" height="43.01"/><rect x="65.36" y="706.27" width="2.5" height="60.03"/><rect x="68.6" y="691.04" width="2.5" height="75.26"/><rect x="71.84" y="677.6" width="2.5" height="88.7"/><rect x="75.09" y="676.7" width="2.5" height="89.6"/><rect x="78.33" y="676.7" width="2.5" height="89.6"/><rect x="81.57" y="686.56" width="2.5" height="79.74"/><rect x="84.81" y="754.65" width="2.5" height="11.65"/><rect x="107.5" y="763.61" width="2.5" height="2.69"/><rect x="110.75" y="758.59" width="2.5" height="7.71"/><rect x="130.2" y="758.59" width="2.5" height="7.71"/><rect x="133.44" y="754.2" width="2.5" height="12.1"/><rect x="136.68" y="762.18" width="2.5" height="4.12"/><rect x="139.92" y="715.23" width="2.5" height="51.07"/><rect x="143.17" y="699.1" width="2.5" height="67.2"/><rect x="146.41" y="725.08" width="2.5" height="41.22"/><rect x="149.65" y="727.77" width="2.5" height="38.53"/><rect x="152.89" y="764.87" width="2.5" height="1.43"/><rect x="156.13" y="746.59" width="2.5" height="19.71"/><rect x="159.38" y="696.41" width="2.5" height="69.89"/><rect x="162.62" y="759.31" width="2.5" height="6.99"/><rect x="165.86" y="743" width="2.5" height="23.3"/><rect x="169.1" y="705.37" width="2.5" height="60.93"/><rect x="172.34" y="680.28" width="2.5" height="86.02"/><rect x="175.58" y="727.77" width="2.5" height="38.53"/><rect x="178.83" y="754.65" width="2.5" height="11.65"/><rect x="182.07" y="746.59" width="2.5" height="19.71"/><rect x="185.31" y="754.2" width="2.5" height="12.1"/><rect x="211.25" y="741.48" width="2.5" height="24.82"/><rect x="214.49" y="706.27" width="2.5" height="60.03"/><rect x="217.73" y="714.33" width="2.5" height="51.97"/><rect x="220.97" y="714.33" width="2.5" height="51.97"/><rect x="224.21" y="707.16" width="2.5" height="59.14"/><rect x="227.46" y="698.2" width="2.5" height="68.1"/><rect x="230.7" y="704.48" width="2.5" height="61.82"/><rect x="233.94" y="719.71" width="2.5" height="46.59"/><rect x="237.18" y="725.08" width="2.5" height="41.22"/><rect x="240.42" y="691.04" width="2.5" height="75.26"/><rect x="243.66" y="704.48" width="2.5" height="61.82"/><rect x="246.91" y="701.79" width="2.5" height="64.51"/><rect x="250.15" y="691.04" width="2.5" height="75.26"/><rect x="253.39" y="676.7" width="2.5" height="89.6"/><rect x="256.63" y="677.6" width="2.5" height="88.7"/><rect x="259.87" y="718.81" width="2.5" height="47.49"/><rect x="263.12" y="735.84" width="2.5" height="30.46"/><rect x="266.36" y="745.69" width="2.5" height="20.61"/><rect x="269.6" y="756.44" width="2.5" height="9.86"/><rect x="292.29" y="764.87" width="2.5" height="1.43"/><rect x="295.54" y="760.48" width="2.5" height="5.82"/><rect x="298.78" y="732.25" width="2.5" height="34.05"/><rect x="302.02" y="680.28" width="2.5" height="86.02"/><rect x="305.26" y="676.7" width="2.5" height="89.6"/><rect x="308.5" y="679.39" width="2.5" height="86.91"/><rect x="311.75" y="676.7" width="2.5" height="89.6"/><rect x="314.99" y="677.6" width="2.5" height="88.7"/><rect x="318.23" y="693.28" width="2.5" height="73.02"/><rect x="321.47" y="683.87" width="2.5" height="82.43"/><rect x="324.71" y="699.55" width="2.5" height="66.75"/><rect x="327.95" y="698.2" width="2.5" height="68.1"/><rect x="331.2" y="691.04" width="2.5" height="75.26"/><rect x="334.44" y="711.64" width="2.5" height="54.66"/><rect x="337.68" y="731.36" width="2.5" height="34.94"/><rect x="340.92" y="729.56" width="2.5" height="36.74"/><rect x="344.16" y="742.11" width="2.5" height="24.19"/><rect x="347.41" y="758.24" width="2.5" height="8.06"/><rect x="366.86" y="765.4" width="2.5" height="0.9"/><rect x="370.1" y="761.37" width="2.5" height="4.93"/><rect x="373.34" y="739.42" width="2.5" height="26.88"/><rect x="376.58" y="686.56" width="2.5" height="79.74"/><rect x="379.83" y="676.7" width="2.5" height="89.6"/><rect x="383.07" y="691.04" width="2.5" height="75.26"/><rect x="386.31" y="699.1" width="2.5" height="67.2"/><rect x="389.55" y="691.93" width="2.5" height="74.37"/><rect x="392.79" y="694.62" width="2.5" height="71.68"/><rect x="396.04" y="681.18" width="2.5" height="85.12"/><rect x="399.28" y="686.56" width="2.5" height="79.74"/><rect x="402.52" y="682.08" width="2.5" height="84.22"/><rect x="405.76" y="676.7" width="2.5" height="89.6"/><rect x="409" y="685.66" width="2.5" height="80.64"/><rect x="412.24" y="724.46" width="2.5" height="41.84"/><rect x="415.49" y="720.6" width="2.5" height="45.7"/><rect x="418.73" y="738.7" width="2.5" height="27.6"/><rect x="421.97" y="745.87" width="2.5" height="20.43"/><rect x="425.21" y="762.9" width="2.5" height="3.4"/><rect x="428.45" y="765.4" width="2.5" height="0.9"/><rect x="441.42" y="764.51" width="2.5" height="1.79"/><rect x="444.66" y="762.72" width="2.5" height="3.58"/><rect x="447.91" y="751.43" width="2.5" height="14.87"/><rect x="451.15" y="740.5" width="2.5" height="25.8"/><rect x="454.39" y="718.81" width="2.5" height="47.49"/><rect x="457.63" y="682.52" width="2.5" height="83.78"/><rect x="460.87" y="682.08" width="2.5" height="84.22"/><rect x="464.12" y="680.28" width="2.5" height="86.02"/><rect x="467.36" y="676.7" width="2.5" height="89.6"/><rect x="470.6" y="676.7" width="2.5" height="89.6"/><rect x="473.84" y="679.39" width="2.5" height="86.91"/><rect x="477.08" y="695.52" width="2.5" height="70.78"/><rect x="480.32" y="697.31" width="2.5" height="68.99"/><rect x="483.57" y="697.31" width="2.5" height="68.99"/><rect x="486.81" y="701.79" width="2.5" height="64.51"/><rect x="490.05" y="718.81" width="2.5" height="47.49"/><rect x="493.29" y="708.96" width="2.5" height="57.34"/><rect x="496.53" y="717.02" width="2.5" height="49.28"/><rect x="499.78" y="747.48" width="2.5" height="18.82"/><rect x="503.02" y="758.24" width="2.5" height="8.06"/><rect x="506.26" y="754.2" width="2.5" height="12.1"/><rect x="509.5" y="762.18" width="2.5" height="4.12"/><rect x="512.74" y="736.73" width="2.5" height="29.57"/><rect x="515.99" y="704.48" width="2.5" height="61.82"/><rect x="519.23" y="698.2" width="2.5" height="68.1"/><rect x="522.47" y="705.37" width="2.5" height="60.93"/><rect x="525.71" y="734.94" width="2.5" height="31.36"/><rect x="528.95" y="752.86" width="2.5" height="13.44"/><rect x="532.2" y="735.84" width="2.5" height="30.46"/><rect x="535.44" y="720.6" width="2.5" height="45.7"/><rect x="538.68" y="708.06" width="2.5" height="58.24"/><rect x="541.92" y="697.31" width="2.5" height="68.99"/><rect x="545.16" y="678.94" width="2.5" height="87.36"/><rect x="548.41" y="708.06" width="2.5" height="58.24"/><rect x="551.65" y="732.25" width="2.5" height="34.05"/><rect x="554.89" y="736.73" width="2.5" height="29.57"/><rect x="561.37" y="709.85" width="2.5" height="56.45"/><rect x="564.61" y="731.36" width="2.5" height="34.94"/><rect x="567.86" y="755.55" width="2.5" height="10.75"/><rect x="571.1" y="762.18" width="2.5" height="4.12"/><rect x="574.34" y="762.18" width="2.5" height="4.12"/><rect x="584.07" y="764.87" width="2.5" height="1.43"/></g>
<line x1="50.9" y1="766.3" x2="590.8" y2="766.3" stroke="#1e32ff" stroke-width="1.5"/>
<g stroke="#9a9a9a" stroke-width="1.15" stroke-dasharray="1.7 4.78"><line x1="50" y1="766.3" x2="591.3" y2="766.3"/><line x1="50" y1="748.38" x2="591.3" y2="748.38"/><line x1="50" y1="730.46" x2="591.3" y2="730.46"/><line x1="50" y1="712.54" x2="591.3" y2="712.54"/><line x1="50" y1="694.62" x2="591.3" y2="694.62"/><line x1="50" y1="676.7" x2="591.3" y2="676.7"/></g>
<g stroke="#9a9a9a" stroke-width="1.5" stroke-dasharray="1.3 5.15"><line x1="50.3" y1="681.45" x2="50.3" y2="765.3"/><line x1="128.11" y1="681.45" x2="128.11" y2="765.3"/><line x1="205.91" y1="681.45" x2="205.91" y2="765.3"/><line x1="283.72" y1="681.45" x2="283.72" y2="765.3"/><line x1="361.52" y1="681.45" x2="361.52" y2="765.3"/><line x1="439.33" y1="681.45" x2="439.33" y2="765.3"/><line x1="517.14" y1="681.45" x2="517.14" y2="765.3"/></g>
<text id="t115" transform="translate(37.55 770.5) scale(0.85 1)" font-size="12.2" fill="#000" font-weight="normal" textLength="6.53" lengthAdjust="spacing" stroke="#000" stroke-width="0.38">0</text>
<text id="t116" transform="translate(32 752.58) scale(0.85 1)" font-size="12.2" fill="#000" font-weight="normal" textLength="14.24" lengthAdjust="spacing" stroke="#000" stroke-width="0.38">20</text>
<text id="t117" transform="translate(32 734.66) scale(0.85 1)" font-size="12.2" fill="#000" font-weight="normal" textLength="14.24" lengthAdjust="spacing" stroke="#000" stroke-width="0.38">40</text>
<text id="t118" transform="translate(32 716.74) scale(0.85 1)" font-size="12.2" fill="#000" font-weight="normal" textLength="14.24" lengthAdjust="spacing" stroke="#000" stroke-width="0.38">60</text>
<text id="t119" transform="translate(32 698.82) scale(0.85 1)" font-size="12.2" fill="#000" font-weight="normal" textLength="14.24" lengthAdjust="spacing" stroke="#000" stroke-width="0.38">80</text>
<text id="t120" transform="translate(25.45 680.9) scale(0.85 1)" font-size="12.2" fill="#000" font-weight="normal" textLength="21.94" lengthAdjust="spacing" stroke="#000" stroke-width="0.38">100</text>
<text id="t121" transform="translate(38.9 780.5) scale(0.78 1)" font-size="12" fill="#000" font-weight="normal" textLength="30.26" lengthAdjust="spacing" stroke="#000" stroke-width="0.42">7APR</text>
<text id="t122" transform="translate(116.32 780.5) scale(0.78 1)" font-size="12" fill="#000" font-weight="normal" textLength="30.26" lengthAdjust="spacing" stroke="#000" stroke-width="0.42">8APR</text>
<text id="t123" transform="translate(193.74 780.5) scale(0.78 1)" font-size="12" fill="#000" font-weight="normal" textLength="31.54" lengthAdjust="spacing" stroke="#000" stroke-width="0.42">9APR</text>
<text id="t124" transform="translate(268.08 780.5) scale(0.78 1)" font-size="12" fill="#000" font-weight="normal" textLength="39.42" lengthAdjust="spacing" stroke="#000" stroke-width="0.42">10APR</text>
<text id="t125" transform="translate(346.5 780.5) scale(0.78 1)" font-size="12" fill="#000" font-weight="normal" textLength="38.14" lengthAdjust="spacing" stroke="#000" stroke-width="0.42">11APR</text>
<text id="t126" transform="translate(423.91 780.5) scale(0.78 1)" font-size="12" fill="#000" font-weight="normal" textLength="39.42" lengthAdjust="spacing" stroke="#000" stroke-width="0.42">12APR</text>
<text id="t127" transform="translate(502.33 780.5) scale(0.78 1)" font-size="12" fill="#000" font-weight="normal" textLength="38.14" lengthAdjust="spacing" stroke="#000" stroke-width="0.42">13APR</text>
<text id="t128" transform="translate(38.3 791.6) scale(0.85 1)" font-size="12" fill="#000" font-weight="normal" textLength="28" lengthAdjust="spacing" stroke="#000" stroke-width="0.42">2026</text>
<text id="t129" transform="translate(72.2 674) scale(1 1)" font-size="14.8" fill="#000" font-weight="normal" textLength="65.4" lengthAdjust="spacing" stroke="#000" stroke-width="0.42">Cobertura</text>
<text id="t130" transform="translate(147.7 674) scale(1 1)" font-size="14.8" fill="#000" font-weight="normal" textLength="15.8" lengthAdjust="spacing" stroke="#000" stroke-width="0.42">de</text>
<text id="t131" transform="translate(169 674) scale(0.97 1)" font-size="14.8" fill="#000" font-weight="normal" textLength="49.46" lengthAdjust="spacing" stroke="#000" stroke-width="0.42">Nuvens</text>
<text id="t132" transform="translate(222.7 674) scale(1 1)" font-size="14.8" fill="#000" font-weight="normal" textLength="25.3" lengthAdjust="spacing" stroke="#000" stroke-width="0.42">(%)</text>
<rect x="251.8" y="662.4" width="7.4" height="10.8" fill="none" stroke="#2244f0" stroke-width="0.9"/>
<text id="t133" transform="translate(263.5 674.1) scale(0.97 1)" font-size="14.8" fill="#2244f0" font-weight="normal" textLength="47.23" lengthAdjust="spacing" stroke="#2244f0" stroke-width="0.55">nuvens</text>
<text id="t134" transform="translate(316.8 674.1) scale(1 1)" font-size="14.8" fill="#2244f0" font-weight="normal" textLength="42.6" lengthAdjust="spacing" stroke="#2244f0" stroke-width="0.55">baixas</text>
<rect x="372.1" y="662.5" width="6.2" height="10.6" fill="none" stroke="#10d810" stroke-width="0.9"/>
<text id="t135" transform="translate(380.4 674.1) scale(1 1)" font-size="14.8" fill="#10d810" font-weight="normal" textLength="47.8" lengthAdjust="spacing" stroke="#10d810" stroke-width="0.55">nuvens</text>
<text id="t136" transform="translate(436.8 674.1) scale(1 1)" font-size="14.8" fill="#10d810" font-weight="normal" textLength="47.5" lengthAdjust="spacing" stroke="#10d810" stroke-width="0.55">medias</text>
<rect x="492.5" y="662.3" width="5.5" height="10.9" fill="none" stroke="#f07a22" stroke-width="0.9"/>
<text id="t137" transform="translate(501 674.1) scale(0.96 1)" font-size="14.8" fill="#f07a22" font-weight="normal" textLength="47.24" lengthAdjust="spacing" stroke="#f07a22" stroke-width="0.55">nuvens</text>
<text id="t138" transform="translate(556 674.1) scale(1 1)" font-size="14.8" fill="#f07a22" font-weight="normal" textLength="32.4" lengthAdjust="spacing" stroke="#f07a22" stroke-width="0.55">altas</text>
</svg>
</body></html>
